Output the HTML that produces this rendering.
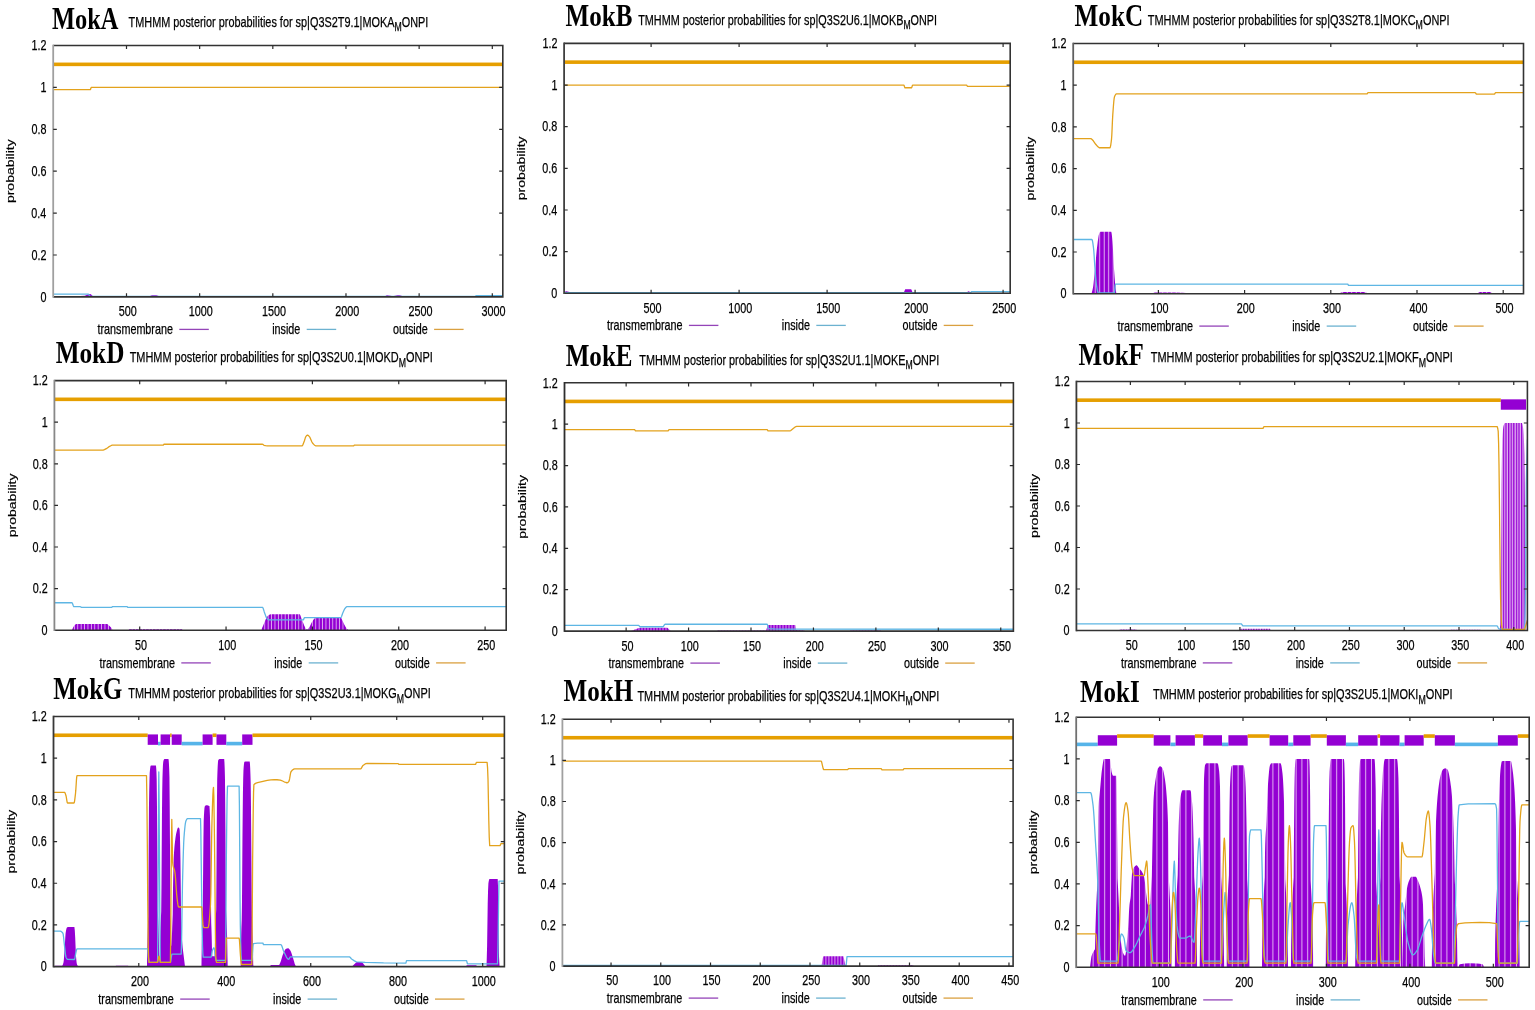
<!DOCTYPE html>
<html><head><meta charset="utf-8"><title>TMHMM posterior probabilities MokA-MokI</title>
<style>html,body{margin:0;padding:0;background:#fff;}svg{display:block;filter:blur(0.35px);}</style></head>
<body><svg width="1535" height="1010" viewBox="0 0 1535 1010">
<defs><clipPath id="cA"><rect x="53.2" y="45.5" width="449.6" height="251.4"/></clipPath>
<clipPath id="cB"><rect x="564.1" y="43.4" width="446.1" height="249.9"/></clipPath>
<clipPath id="cC"><rect x="1073.2" y="43.5" width="450.3" height="250.2"/></clipPath>
<pattern id="pC" patternUnits="userSpaceOnUse" x="1073.2" y="0" width="4.5" height="10"><rect width="4.5" height="10" fill="#9400D3"/><rect x="3.5" width="1" height="10" fill="#e2b0f2"/></pattern>
<clipPath id="cD"><rect x="54.4" y="380.6" width="451.8" height="249.6"/></clipPath>
<pattern id="pD" patternUnits="userSpaceOnUse" x="54.4" y="0" width="3.4" height="10"><rect width="3.4" height="10" fill="#9400D3"/><rect x="2.5" width="0.9" height="10" fill="#e2b0f2"/></pattern>
<clipPath id="cE"><rect x="564.5" y="382.8" width="448.9" height="248.3"/></clipPath>
<pattern id="pE" patternUnits="userSpaceOnUse" x="564.5" y="0" width="3" height="10"><rect width="3" height="10" fill="#9400D3"/><rect x="2.1" width="0.9" height="10" fill="#e2b0f2"/></pattern>
<clipPath id="cF"><rect x="1076.4" y="381.5" width="451" height="249"/></clipPath>
<pattern id="pF" patternUnits="userSpaceOnUse" x="1076.4" y="0" width="2.6" height="10"><rect width="2.6" height="10" fill="#9400D3"/><rect x="1.3" width="1.3" height="10" fill="#e2b0f2"/></pattern>
<clipPath id="cG"><rect x="53.5" y="716.5" width="450.9" height="250.1"/></clipPath>
<clipPath id="cH"><rect x="562.4" y="719.2" width="450.7" height="246.9"/></clipPath>
<pattern id="pH" patternUnits="userSpaceOnUse" x="562.4" y="0" width="3" height="10"><rect width="3" height="10" fill="#9400D3"/><rect x="2.1" width="0.9" height="10" fill="#e2b0f2"/></pattern>
<clipPath id="cI"><rect x="1076.2" y="717.3" width="453" height="250"/></clipPath>
<pattern id="pI" patternUnits="userSpaceOnUse" x="1076.2" y="0" width="5.8" height="10"><rect width="5.8" height="10" fill="#9400D3"/><rect x="4.8" width="1" height="10" fill="#e2b0f2"/></pattern></defs>
<rect width="1535" height="1010" fill="#fff"/>
<g clip-path="url(#cA)">
<rect x="53.2" y="62.55" width="449.6" height="3.6" fill="#E69F00"/>
<polygon points="80,296.9 80,296.06 85,295.64 85.9,295.36 87.7,294.48 90,293.97 90.9,294.35 92.7,296.06 92.7,296.9" fill="#9400D3"/>
<polygon points="150,296.9 150,296.06 151.33,295.38 152,295.22 156.34,295.25 158.7,296.06 158.7,296.9" fill="#9400D3"/>
<polygon points="385,296.9 385,296.27 386.33,295.42 387,295.22 392,296.06 393.83,295.92 397.48,295.33 399.31,295.24 400.54,295.47 403,296.27 403,296.9" fill="#9400D3"/>
<polygon points="475,296.9 475,296.27 476.33,295.76 477,295.64 477.67,295.76 479,296.27 479,296.9" fill="#9400D3"/>
<polyline points="53.2,294.18 88.5,294.18 88.8,294.42 89.7,296.24 90,296.48 475,296.48 476,295.64 502.8,295.64" fill="none" stroke="#5eb6e4" stroke-width="1.3" stroke-linejoin="round"/>
<polyline points="53.2,89.7 90.3,89.7 90.63,89.11 90.97,88 91.3,87.4 502.8,87.4" fill="none" stroke="#e3a21c" stroke-width="1.3" stroke-linejoin="round"/>
</g>
<path d="M53.2,45.5H502.8V296.9H53.2" fill="none" stroke="#333" stroke-width="1.6"/>
<path d="M53.2,44.7V297.7" fill="none" stroke="#a0a0a0" stroke-width="1.8"/>
<text x="40.42" y="301.64" font-family='"Liberation Sans", sans-serif' font-size="14.8" textLength="6" lengthAdjust="spacingAndGlyphs" fill="#000" stroke="#000" stroke-width="0.25">0</text>
<text x="31.54" y="259.74" font-family='"Liberation Sans", sans-serif' font-size="14.8" textLength="15" lengthAdjust="spacingAndGlyphs" fill="#000" stroke="#000" stroke-width="0.25">0.2</text>
<text x="31.31" y="217.84" font-family='"Liberation Sans", sans-serif' font-size="14.8" textLength="15" lengthAdjust="spacingAndGlyphs" fill="#000" stroke="#000" stroke-width="0.25">0.4</text>
<text x="31.47" y="175.94" font-family='"Liberation Sans", sans-serif' font-size="14.8" textLength="15" lengthAdjust="spacingAndGlyphs" fill="#000" stroke="#000" stroke-width="0.25">0.6</text>
<text x="31.47" y="134.04" font-family='"Liberation Sans", sans-serif' font-size="14.8" textLength="15" lengthAdjust="spacingAndGlyphs" fill="#000" stroke="#000" stroke-width="0.25">0.8</text>
<text x="40.52" y="92.14" font-family='"Liberation Sans", sans-serif' font-size="14.8" textLength="6" lengthAdjust="spacingAndGlyphs" fill="#000" stroke="#000" stroke-width="0.25">1</text>
<text x="31.54" y="50.24" font-family='"Liberation Sans", sans-serif' font-size="14.8" textLength="15" lengthAdjust="spacingAndGlyphs" fill="#000" stroke="#000" stroke-width="0.25">1.2</text>
<text x="118.79" y="316.3" font-family='"Liberation Sans", sans-serif' font-size="14.8" textLength="18.01" lengthAdjust="spacingAndGlyphs" fill="#000" stroke="#000" stroke-width="0.25">500</text>
<text x="188.76" y="316.3" font-family='"Liberation Sans", sans-serif' font-size="14.8" textLength="24.01" lengthAdjust="spacingAndGlyphs" fill="#000" stroke="#000" stroke-width="0.25">1000</text>
<text x="261.92" y="316.3" font-family='"Liberation Sans", sans-serif' font-size="14.8" textLength="24.01" lengthAdjust="spacingAndGlyphs" fill="#000" stroke="#000" stroke-width="0.25">1500</text>
<text x="335.22" y="316.3" font-family='"Liberation Sans", sans-serif' font-size="14.8" textLength="24.01" lengthAdjust="spacingAndGlyphs" fill="#000" stroke="#000" stroke-width="0.25">2000</text>
<text x="408.38" y="316.3" font-family='"Liberation Sans", sans-serif' font-size="14.8" textLength="24.01" lengthAdjust="spacingAndGlyphs" fill="#000" stroke="#000" stroke-width="0.25">2500</text>
<text x="481.6" y="316.3" font-family='"Liberation Sans", sans-serif' font-size="14.8" textLength="24.01" lengthAdjust="spacingAndGlyphs" fill="#000" stroke="#000" stroke-width="0.25">3000</text>
<path d="M53.2,255h3.6M502.8,255h-3.6M53.2,213.1h3.6M502.8,213.1h-3.6M53.2,171.2h3.6M502.8,171.2h-3.6M53.2,129.3h3.6M502.8,129.3h-3.6M53.2,87.4h3.6M502.8,87.4h-3.6M126.5,296.9v-3.6M126.5,45.5v3.6M199.66,296.9v-3.6M199.66,45.5v3.6M272.82,296.9v-3.6M272.82,45.5v3.6M345.98,296.9v-3.6M345.98,45.5v3.6M419.14,296.9v-3.6M419.14,45.5v3.6M492.3,296.9v-3.6M492.3,45.5v3.6" stroke="#2a2a2a" stroke-width="1.2" fill="none"/>
<text transform="translate(14.3,171.2) scale(0.76,1) rotate(-90)" x="0" y="0" text-anchor="middle" font-family='"Liberation Sans", sans-serif' font-size="14" stroke="#000" stroke-width="0.2">probability</text>
<line x1="179.3" y1="329.4" x2="208.8" y2="329.4" stroke="#9444b8" stroke-width="1.3"/>
<text x="97.4" y="334.4" font-family='"Liberation Sans", sans-serif' font-size="14.2" textLength="75.58" lengthAdjust="spacingAndGlyphs" fill="#000" stroke="#000" stroke-width="0.25">transmembrane</text>
<line x1="306.7" y1="329.4" x2="336.2" y2="329.4" stroke="#6cb2d0" stroke-width="1.3"/>
<text x="272.18" y="334.4" font-family='"Liberation Sans", sans-serif' font-size="14.2" textLength="28.2" lengthAdjust="spacingAndGlyphs" fill="#000" stroke="#000" stroke-width="0.25">inside</text>
<line x1="434.1" y1="329.4" x2="463.6" y2="329.4" stroke="#daa040" stroke-width="1.3"/>
<text x="392.98" y="334.4" font-family='"Liberation Sans", sans-serif' font-size="14.2" textLength="34.8" lengthAdjust="spacingAndGlyphs" fill="#000" stroke="#000" stroke-width="0.25">outside</text>
<text font-family='"Liberation Serif", serif' font-weight="bold" fill="#000"><tspan x="51.88" y="29.4" font-size="31.2" textLength="23.06" lengthAdjust="spacingAndGlyphs">M</tspan><tspan x="74.94" y="29.4" font-size="30" textLength="25.8" lengthAdjust="spacingAndGlyphs">ok</tspan><tspan x="100.74" y="29.4" font-size="31.2" textLength="17.64" lengthAdjust="spacingAndGlyphs">A</tspan></text>
<text font-family='"Liberation Sans", sans-serif' fill="#000" stroke="#000" stroke-width="0.25"><tspan x="128.56" y="26.8" font-size="15" textLength="265.92" lengthAdjust="spacingAndGlyphs">TMHMM posterior probabilities for sp|Q3S2T9.1|MOKA</tspan><tspan x="394.48" y="31.4" font-size="12" textLength="7.26" lengthAdjust="spacingAndGlyphs">M</tspan><tspan x="401.73" y="26.8" font-size="15" textLength="26.63" lengthAdjust="spacingAndGlyphs">ONPI</tspan></text>
<g clip-path="url(#cB)">
<rect x="564.1" y="60.34" width="446.1" height="3.6" fill="#E69F00"/>
<polygon points="564.5,293.3 564.5,292.47 565.7,291.31 566.31,291.23 574,292.88 574,293.3" fill="#9400D3"/>
<polygon points="904,293.3 904,292.26 904.9,289.93 905.2,289.36 905.5,289.13 911,289.13 911.35,289.48 911.7,290.31 912.4,292.26 912.4,293.3" fill="#9400D3"/>
<polygon points="967,293.3 967,292.47 967.9,291.54 968.5,291.22 969.16,291.39 970.8,292.47 970.8,293.3" fill="#9400D3"/>
<polyline points="564.1,292.68 970.8,292.68 971.5,291.63 1010.2,291.63" fill="none" stroke="#5eb6e4" stroke-width="1.3" stroke-linejoin="round"/>
<polyline points="564.1,85.05 903.8,85.05 904.1,85.47 904.7,87.33 905,87.76 911.5,87.76 911.8,87.33 912.4,85.47 912.7,85.05 966.6,85.05 967.5,86.3 1010.2,86.3" fill="none" stroke="#e3a21c" stroke-width="1.3" stroke-linejoin="round"/>
</g>
<path d="M564.1,43.4H1010.2V293.3H564.1" fill="none" stroke="#333" stroke-width="1.6"/>
<path d="M564.1,42.6V294.1" fill="none" stroke="#404040" stroke-width="1.8"/>
<text x="551.32" y="298.04" font-family='"Liberation Sans", sans-serif' font-size="14.8" textLength="6" lengthAdjust="spacingAndGlyphs" fill="#000" stroke="#000" stroke-width="0.25">0</text>
<text x="542.44" y="256.39" font-family='"Liberation Sans", sans-serif' font-size="14.8" textLength="15" lengthAdjust="spacingAndGlyphs" fill="#000" stroke="#000" stroke-width="0.25">0.2</text>
<text x="542.21" y="214.74" font-family='"Liberation Sans", sans-serif' font-size="14.8" textLength="15" lengthAdjust="spacingAndGlyphs" fill="#000" stroke="#000" stroke-width="0.25">0.4</text>
<text x="542.37" y="173.09" font-family='"Liberation Sans", sans-serif' font-size="14.8" textLength="15" lengthAdjust="spacingAndGlyphs" fill="#000" stroke="#000" stroke-width="0.25">0.6</text>
<text x="542.37" y="131.44" font-family='"Liberation Sans", sans-serif' font-size="14.8" textLength="15" lengthAdjust="spacingAndGlyphs" fill="#000" stroke="#000" stroke-width="0.25">0.8</text>
<text x="551.42" y="89.79" font-family='"Liberation Sans", sans-serif' font-size="14.8" textLength="6" lengthAdjust="spacingAndGlyphs" fill="#000" stroke="#000" stroke-width="0.25">1</text>
<text x="542.44" y="48.14" font-family='"Liberation Sans", sans-serif' font-size="14.8" textLength="15" lengthAdjust="spacingAndGlyphs" fill="#000" stroke="#000" stroke-width="0.25">1.2</text>
<text x="643.39" y="312.7" font-family='"Liberation Sans", sans-serif' font-size="14.8" textLength="18.01" lengthAdjust="spacingAndGlyphs" fill="#000" stroke="#000" stroke-width="0.25">500</text>
<text x="728.2" y="312.7" font-family='"Liberation Sans", sans-serif' font-size="14.8" textLength="24.01" lengthAdjust="spacingAndGlyphs" fill="#000" stroke="#000" stroke-width="0.25">1000</text>
<text x="816.2" y="312.7" font-family='"Liberation Sans", sans-serif' font-size="14.8" textLength="24.01" lengthAdjust="spacingAndGlyphs" fill="#000" stroke="#000" stroke-width="0.25">1500</text>
<text x="904.34" y="312.7" font-family='"Liberation Sans", sans-serif' font-size="14.8" textLength="24.01" lengthAdjust="spacingAndGlyphs" fill="#000" stroke="#000" stroke-width="0.25">2000</text>
<text x="992.34" y="312.7" font-family='"Liberation Sans", sans-serif' font-size="14.8" textLength="24.01" lengthAdjust="spacingAndGlyphs" fill="#000" stroke="#000" stroke-width="0.25">2500</text>
<path d="M564.1,251.65h3.6M1010.2,251.65h-3.6M564.1,210h3.6M1010.2,210h-3.6M564.1,168.35h3.6M1010.2,168.35h-3.6M564.1,126.7h3.6M1010.2,126.7h-3.6M564.1,85.05h3.6M1010.2,85.05h-3.6M651.1,293.3v-3.6M651.1,43.4v3.6M739.1,293.3v-3.6M739.1,43.4v3.6M827.1,293.3v-3.6M827.1,43.4v3.6M915.1,293.3v-3.6M915.1,43.4v3.6M1003.1,293.3v-3.6M1003.1,43.4v3.6" stroke="#2a2a2a" stroke-width="1.2" fill="none"/>
<text transform="translate(525.2,168.35) scale(0.76,1) rotate(-90)" x="0" y="0" text-anchor="middle" font-family='"Liberation Sans", sans-serif' font-size="14" stroke="#000" stroke-width="0.2">probability</text>
<line x1="688.9" y1="325.4" x2="718.4" y2="325.4" stroke="#9444b8" stroke-width="1.3"/>
<text x="607" y="330.4" font-family='"Liberation Sans", sans-serif' font-size="14.2" textLength="75.58" lengthAdjust="spacingAndGlyphs" fill="#000" stroke="#000" stroke-width="0.25">transmembrane</text>
<line x1="816.3" y1="325.4" x2="845.8" y2="325.4" stroke="#6cb2d0" stroke-width="1.3"/>
<text x="781.78" y="330.4" font-family='"Liberation Sans", sans-serif' font-size="14.2" textLength="28.2" lengthAdjust="spacingAndGlyphs" fill="#000" stroke="#000" stroke-width="0.25">inside</text>
<line x1="943.7" y1="325.4" x2="973.2" y2="325.4" stroke="#daa040" stroke-width="1.3"/>
<text x="902.58" y="330.4" font-family='"Liberation Sans", sans-serif' font-size="14.2" textLength="34.8" lengthAdjust="spacingAndGlyphs" fill="#000" stroke="#000" stroke-width="0.25">outside</text>
<text font-family='"Liberation Serif", serif' font-weight="bold" fill="#000"><tspan x="565.57" y="25.8" font-size="31.2" textLength="23.65" lengthAdjust="spacingAndGlyphs">M</tspan><tspan x="589.22" y="25.8" font-size="30" textLength="26.46" lengthAdjust="spacingAndGlyphs">ok</tspan><tspan x="615.68" y="25.8" font-size="31.2" textLength="16.71" lengthAdjust="spacingAndGlyphs">B</tspan></text>
<text font-family='"Liberation Sans", sans-serif' fill="#000" stroke="#000" stroke-width="0.25"><tspan x="638.26" y="24.8" font-size="15" textLength="265.16" lengthAdjust="spacingAndGlyphs">TMHMM posterior probabilities for sp|Q3S2U6.1|MOKB</tspan><tspan x="903.42" y="29.4" font-size="12" textLength="7.2" lengthAdjust="spacingAndGlyphs">M</tspan><tspan x="910.62" y="24.8" font-size="15" textLength="26.43" lengthAdjust="spacingAndGlyphs">ONPI</tspan></text>
<g clip-path="url(#cC)">
<rect x="1073.2" y="60.46" width="450.3" height="3.6" fill="#E69F00"/>
<polygon points="1091.5,293.7 1091.5,293.7 1092.4,290.27 1092.7,288.98 1093,287.44 1093.33,285.2 1093.67,282.36 1094,279.11 1095.33,265.23 1096.33,254.21 1096.67,250.82 1097,247.83 1097.67,242.29 1098,239.68 1098.33,237.38 1098.67,235.53 1099,234.28 1099.35,233.35 1099.7,232.55 1100.05,231.99 1100.4,231.78 1100.71,231.78 1111.2,231.78 1111.53,232.66 1111.85,234.96 1112.17,238.12 1112.5,241.57 1112.8,245.71 1113.1,251.26 1113.7,263.53 1114,268.68 1114.3,273.05 1114.6,277.22 1114.9,281.08 1115.2,284.53 1115.5,287.44 1115.8,289.77 1116.4,293.7 1116.4,293.7" fill="url(#pC)"/>
<polygon points="1152,293.7 1152,293.28 1154.7,292.46 1158,292.45 1175.45,292.53 1182.14,292.74 1191,293.28 1191,293.7" fill="url(#pC)"/>
<polygon points="1340,293.7 1340,293.07 1342.1,292.19 1343,292.03 1364,292.03 1364.9,292.19 1367,293.07 1367,293.7" fill="url(#pC)"/>
<polygon points="1477.8,293.7 1477.8,293.07 1479.37,292.18 1480,292.03 1490,292.03 1490.67,292.23 1492,293.07 1492,293.7" fill="url(#pC)"/>
<polyline points="1073.2,239.49 1091.9,239.49 1092.22,239.97 1092.54,241.26 1092.86,243.14 1093.5,247.83 1093.8,250.87 1094.1,255.04 1094.7,264.51 1095,268.68 1095.6,276.33 1095.9,279.94 1096.2,283.04 1096.5,285.36 1096.86,287.56 1097.22,289.6 1097.58,291.29 1097.94,292.44 1098.3,292.87 1114.3,292.87 1114.6,291.5 1115.2,285.48 1115.5,284.11 1347.8,284.11 1348.5,285.36 1523.5,285.36" fill="none" stroke="#5eb6e4" stroke-width="1.3" stroke-linejoin="round"/>
<polyline points="1073.2,138.58 1090.9,138.62 1091.8,139.22 1093.3,140.78 1095.7,144.27 1097.96,146.84 1098.95,147.58 1099.6,147.75 1109.9,147.75 1110.22,147.31 1110.54,146.1 1110.86,144.27 1111.18,141.99 1111.5,139.41 1111.83,134.81 1112.15,127.77 1112.47,120.29 1112.8,114.39 1113.14,109.7 1113.48,105.21 1113.82,101.29 1114.16,98.32 1114.5,96.67 1115.13,95.25 1115.77,94.3 1116.08,94.05 1116.4,93.96 1367,93.96 1367.33,93.63 1367.67,93.03 1368,92.71 1475.2,92.71 1475.53,92.93 1476.17,93.94 1476.5,94.17 1494.5,94.17 1494.83,93.79 1495.17,93.08 1495.5,92.71 1523.5,92.71" fill="none" stroke="#e3a21c" stroke-width="1.3" stroke-linejoin="round"/>
</g>
<path d="M1073.2,43.5H1523.5V293.7H1073.2" fill="none" stroke="#333" stroke-width="1.6"/>
<path d="M1073.2,42.7V294.5" fill="none" stroke="#606060" stroke-width="1.8"/>
<text x="1060.42" y="298.44" font-family='"Liberation Sans", sans-serif' font-size="14.8" textLength="6" lengthAdjust="spacingAndGlyphs" fill="#000" stroke="#000" stroke-width="0.25">0</text>
<text x="1051.54" y="256.74" font-family='"Liberation Sans", sans-serif' font-size="14.8" textLength="15" lengthAdjust="spacingAndGlyphs" fill="#000" stroke="#000" stroke-width="0.25">0.2</text>
<text x="1051.31" y="215.04" font-family='"Liberation Sans", sans-serif' font-size="14.8" textLength="15" lengthAdjust="spacingAndGlyphs" fill="#000" stroke="#000" stroke-width="0.25">0.4</text>
<text x="1051.47" y="173.34" font-family='"Liberation Sans", sans-serif' font-size="14.8" textLength="15" lengthAdjust="spacingAndGlyphs" fill="#000" stroke="#000" stroke-width="0.25">0.6</text>
<text x="1051.47" y="131.64" font-family='"Liberation Sans", sans-serif' font-size="14.8" textLength="15" lengthAdjust="spacingAndGlyphs" fill="#000" stroke="#000" stroke-width="0.25">0.8</text>
<text x="1060.52" y="89.94" font-family='"Liberation Sans", sans-serif' font-size="14.8" textLength="6" lengthAdjust="spacingAndGlyphs" fill="#000" stroke="#000" stroke-width="0.25">1</text>
<text x="1051.54" y="48.24" font-family='"Liberation Sans", sans-serif' font-size="14.8" textLength="15" lengthAdjust="spacingAndGlyphs" fill="#000" stroke="#000" stroke-width="0.25">1.2</text>
<text x="1150.5" y="313.1" font-family='"Liberation Sans", sans-serif' font-size="14.8" textLength="18.01" lengthAdjust="spacingAndGlyphs" fill="#000" stroke="#000" stroke-width="0.25">100</text>
<text x="1236.84" y="313.1" font-family='"Liberation Sans", sans-serif' font-size="14.8" textLength="18.01" lengthAdjust="spacingAndGlyphs" fill="#000" stroke="#000" stroke-width="0.25">200</text>
<text x="1323.1" y="313.1" font-family='"Liberation Sans", sans-serif' font-size="14.8" textLength="18.01" lengthAdjust="spacingAndGlyphs" fill="#000" stroke="#000" stroke-width="0.25">300</text>
<text x="1409.38" y="313.1" font-family='"Liberation Sans", sans-serif' font-size="14.8" textLength="18.01" lengthAdjust="spacingAndGlyphs" fill="#000" stroke="#000" stroke-width="0.25">400</text>
<text x="1495.49" y="313.1" font-family='"Liberation Sans", sans-serif' font-size="14.8" textLength="18.01" lengthAdjust="spacingAndGlyphs" fill="#000" stroke="#000" stroke-width="0.25">500</text>
<path d="M1073.2,252h3.6M1523.5,252h-3.6M1073.2,210.3h3.6M1523.5,210.3h-3.6M1073.2,168.6h3.6M1523.5,168.6h-3.6M1073.2,126.9h3.6M1523.5,126.9h-3.6M1073.2,85.2h3.6M1523.5,85.2h-3.6M1158.4,293.7v-3.6M1158.4,43.5v3.6M1244.6,293.7v-3.6M1244.6,43.5v3.6M1330.8,293.7v-3.6M1330.8,43.5v3.6M1417,293.7v-3.6M1417,43.5v3.6M1503.2,293.7v-3.6M1503.2,43.5v3.6" stroke="#2a2a2a" stroke-width="1.2" fill="none"/>
<text transform="translate(1034.3,168.6) scale(0.76,1) rotate(-90)" x="0" y="0" text-anchor="middle" font-family='"Liberation Sans", sans-serif' font-size="14" stroke="#000" stroke-width="0.2">probability</text>
<line x1="1199.3" y1="326.1" x2="1228.8" y2="326.1" stroke="#9444b8" stroke-width="1.3"/>
<text x="1117.4" y="331.1" font-family='"Liberation Sans", sans-serif' font-size="14.2" textLength="75.58" lengthAdjust="spacingAndGlyphs" fill="#000" stroke="#000" stroke-width="0.25">transmembrane</text>
<line x1="1326.7" y1="326.1" x2="1356.2" y2="326.1" stroke="#6cb2d0" stroke-width="1.3"/>
<text x="1292.18" y="331.1" font-family='"Liberation Sans", sans-serif' font-size="14.2" textLength="28.2" lengthAdjust="spacingAndGlyphs" fill="#000" stroke="#000" stroke-width="0.25">inside</text>
<line x1="1454.1" y1="326.1" x2="1483.6" y2="326.1" stroke="#daa040" stroke-width="1.3"/>
<text x="1412.98" y="331.1" font-family='"Liberation Sans", sans-serif' font-size="14.2" textLength="34.8" lengthAdjust="spacingAndGlyphs" fill="#000" stroke="#000" stroke-width="0.25">outside</text>
<text font-family='"Liberation Serif", serif' font-weight="bold" fill="#000"><tspan x="1074.57" y="26.1" font-size="31.2" textLength="23.77" lengthAdjust="spacingAndGlyphs">M</tspan><tspan x="1098.34" y="26.1" font-size="30" textLength="26.6" lengthAdjust="spacingAndGlyphs">ok</tspan><tspan x="1124.93" y="26.1" font-size="31.2" textLength="18.19" lengthAdjust="spacingAndGlyphs">C</tspan></text>
<text font-family='"Liberation Sans", sans-serif' fill="#000" stroke="#000" stroke-width="0.25"><tspan x="1147.75" y="24.8" font-size="15" textLength="267.86" lengthAdjust="spacingAndGlyphs">TMHMM posterior probabilities for sp|Q3S2T8.1|MOKC</tspan><tspan x="1415.61" y="29.4" font-size="12" textLength="7.29" lengthAdjust="spacingAndGlyphs">M</tspan><tspan x="1422.9" y="24.8" font-size="15" textLength="26.76" lengthAdjust="spacingAndGlyphs">ONPI</tspan></text>
<g clip-path="url(#cD)">
<rect x="54.4" y="397.52" width="451.8" height="3.6" fill="#E69F00"/>
<polygon points="71.9,630.2 71.9,630.2 73,627.7 74,625.96 74.67,625.07 75.33,624.58 76.33,624.08 77.6,623.96 107,623.96 107.67,624.26 109,625.62 110.87,627.32 111.8,628.54 112.5,630.2 112.5,630.2" fill="url(#pD)"/>
<polygon points="128.5,630.2 128.5,630.2 129,629.16 129.3,629.16 182,629.16 182.6,630.2 182.6,630.2" fill="url(#pD)"/>
<polygon points="261,630.2 261,630.2 263,626.04 264.88,621.21 265.5,619.8 266.75,617.32 267.69,615.92 269.24,614.85 270.78,614.25 278.65,614.18 299.5,614.18 299.81,614.35 300.12,614.79 300.44,615.45 301.69,619 303.8,624.45 304.4,625.89 306,628.86 306.67,629.66 307,629.78 307.33,629.69 308,629.08 309.3,627.26 309.9,626.16 311.7,622.39 313.25,619.98 314.19,618.84 315.18,617.99 315.86,617.58 340.6,617.51 340.92,617.68 341.23,618.11 344.38,624.85 345.33,626.6 346.67,628.56 347.35,629.3 348.4,630.2 348.4,630.2" fill="url(#pD)"/>
<polyline points="54.4,602.74 71.9,602.74 72.25,603.04 72.6,603.77 73.3,605.67 73.65,606.4 74,606.7 80.4,606.7 81.5,607.32 111.8,607.32 112.3,606.7 115.95,606.7 127.2,606.7 127.7,607.32 262.4,607.32 262.7,607.51 263,608.04 263.3,608.81 264.2,611.67 265.83,616.35 266.17,617.14 266.83,618.16 267.81,619.31 268.47,619.74 268.8,619.8 303.3,619.8 303.7,619.26 304.1,618.26 304.5,617.72 340.6,617.72 340.94,617.52 341.29,616.99 341.63,616.21 342.66,613.34 344,610.21 344.67,608.85 346,607.23 346.67,606.76 347,606.7 506.2,606.7" fill="none" stroke="#5eb6e4" stroke-width="1.3" stroke-linejoin="round"/>
<polyline points="54.4,450.07 103.12,450.05 104.4,449.65 106.3,448.66 108.7,446.92 110.85,445.73 112.08,445.22 113,445.08 163.3,445.08 164,444.25 262.4,444.25 262.72,444.34 264,445.29 265.59,445.7 267.18,445.91 302,445.91 302.33,445.73 302.67,445.23 303,444.52 304.33,441.06 305.33,437.83 305.67,436.94 306,436.34 306.6,435.63 307.2,435.17 307.5,435.1 307.83,435.17 308.5,435.64 309.8,437.18 310.4,438.4 311.9,442.02 312.5,443 313.73,444.39 314.66,445.25 315.58,445.8 316.2,445.91 353.5,445.91 354.5,445.08 506.2,445.08" fill="none" stroke="#e3a21c" stroke-width="1.3" stroke-linejoin="round"/>
</g>
<path d="M54.4,380.6H506.2V630.2H54.4" fill="none" stroke="#333" stroke-width="1.6"/>
<path d="M54.4,379.8V631" fill="none" stroke="#888888" stroke-width="1.8"/>
<text x="41.62" y="634.94" font-family='"Liberation Sans", sans-serif' font-size="14.8" textLength="6" lengthAdjust="spacingAndGlyphs" fill="#000" stroke="#000" stroke-width="0.25">0</text>
<text x="32.74" y="593.34" font-family='"Liberation Sans", sans-serif' font-size="14.8" textLength="15" lengthAdjust="spacingAndGlyphs" fill="#000" stroke="#000" stroke-width="0.25">0.2</text>
<text x="32.51" y="551.74" font-family='"Liberation Sans", sans-serif' font-size="14.8" textLength="15" lengthAdjust="spacingAndGlyphs" fill="#000" stroke="#000" stroke-width="0.25">0.4</text>
<text x="32.67" y="510.14" font-family='"Liberation Sans", sans-serif' font-size="14.8" textLength="15" lengthAdjust="spacingAndGlyphs" fill="#000" stroke="#000" stroke-width="0.25">0.6</text>
<text x="32.67" y="468.54" font-family='"Liberation Sans", sans-serif' font-size="14.8" textLength="15" lengthAdjust="spacingAndGlyphs" fill="#000" stroke="#000" stroke-width="0.25">0.8</text>
<text x="41.72" y="426.94" font-family='"Liberation Sans", sans-serif' font-size="14.8" textLength="6" lengthAdjust="spacingAndGlyphs" fill="#000" stroke="#000" stroke-width="0.25">1</text>
<text x="32.74" y="385.34" font-family='"Liberation Sans", sans-serif' font-size="14.8" textLength="15" lengthAdjust="spacingAndGlyphs" fill="#000" stroke="#000" stroke-width="0.25">1.2</text>
<text x="134.99" y="649.6" font-family='"Liberation Sans", sans-serif' font-size="14.8" textLength="12" lengthAdjust="spacingAndGlyphs" fill="#000" stroke="#000" stroke-width="0.25">50</text>
<text x="218.15" y="649.6" font-family='"Liberation Sans", sans-serif' font-size="14.8" textLength="18.01" lengthAdjust="spacingAndGlyphs" fill="#000" stroke="#000" stroke-width="0.25">100</text>
<text x="304.5" y="649.6" font-family='"Liberation Sans", sans-serif' font-size="14.8" textLength="18.01" lengthAdjust="spacingAndGlyphs" fill="#000" stroke="#000" stroke-width="0.25">150</text>
<text x="390.99" y="649.6" font-family='"Liberation Sans", sans-serif' font-size="14.8" textLength="18.01" lengthAdjust="spacingAndGlyphs" fill="#000" stroke="#000" stroke-width="0.25">200</text>
<text x="477.34" y="649.6" font-family='"Liberation Sans", sans-serif' font-size="14.8" textLength="18.01" lengthAdjust="spacingAndGlyphs" fill="#000" stroke="#000" stroke-width="0.25">250</text>
<path d="M54.4,588.6h3.6M506.2,588.6h-3.6M54.4,547h3.6M506.2,547h-3.6M54.4,505.4h3.6M506.2,505.4h-3.6M54.4,463.8h3.6M506.2,463.8h-3.6M54.4,422.2h3.6M506.2,422.2h-3.6M139.7,630.2v-3.6M139.7,380.6v3.6M226.05,630.2v-3.6M226.05,380.6v3.6M312.4,630.2v-3.6M312.4,380.6v3.6M398.75,630.2v-3.6M398.75,380.6v3.6M485.1,630.2v-3.6M485.1,380.6v3.6" stroke="#2a2a2a" stroke-width="1.2" fill="none"/>
<text transform="translate(15.5,505.4) scale(0.76,1) rotate(-90)" x="0" y="0" text-anchor="middle" font-family='"Liberation Sans", sans-serif' font-size="14" stroke="#000" stroke-width="0.2">probability</text>
<line x1="181.3" y1="662.9" x2="210.8" y2="662.9" stroke="#9444b8" stroke-width="1.3"/>
<text x="99.4" y="667.9" font-family='"Liberation Sans", sans-serif' font-size="14.2" textLength="75.58" lengthAdjust="spacingAndGlyphs" fill="#000" stroke="#000" stroke-width="0.25">transmembrane</text>
<line x1="308.7" y1="662.9" x2="338.2" y2="662.9" stroke="#6cb2d0" stroke-width="1.3"/>
<text x="274.18" y="667.9" font-family='"Liberation Sans", sans-serif' font-size="14.2" textLength="28.2" lengthAdjust="spacingAndGlyphs" fill="#000" stroke="#000" stroke-width="0.25">inside</text>
<line x1="436.1" y1="662.9" x2="465.6" y2="662.9" stroke="#daa040" stroke-width="1.3"/>
<text x="394.98" y="667.9" font-family='"Liberation Sans", sans-serif' font-size="14.2" textLength="34.8" lengthAdjust="spacingAndGlyphs" fill="#000" stroke="#000" stroke-width="0.25">outside</text>
<text font-family='"Liberation Serif", serif' font-weight="bold" fill="#000"><tspan x="55.77" y="363" font-size="31.2" textLength="23.77" lengthAdjust="spacingAndGlyphs">M</tspan><tspan x="79.54" y="363" font-size="30" textLength="26.6" lengthAdjust="spacingAndGlyphs">ok</tspan><tspan x="106.14" y="363" font-size="31.2" textLength="18.19" lengthAdjust="spacingAndGlyphs">D</tspan></text>
<text font-family='"Liberation Sans", sans-serif' fill="#000" stroke="#000" stroke-width="0.25"><tspan x="129.65" y="362.4" font-size="15" textLength="269.06" lengthAdjust="spacingAndGlyphs">TMHMM posterior probabilities for sp|Q3S2U0.1|MOKD</tspan><tspan x="398.71" y="367" font-size="12" textLength="7.29" lengthAdjust="spacingAndGlyphs">M</tspan><tspan x="406.01" y="362.4" font-size="15" textLength="26.76" lengthAdjust="spacingAndGlyphs">ONPI</tspan></text>
<g clip-path="url(#cE)">
<rect x="564.5" y="399.62" width="448.9" height="3.6" fill="#E69F00"/>
<polygon points="630.8,631.1 630.8,631.1 638.15,628.17 639.08,627.9 640,627.79 667,627.79 667.62,627.96 668.23,628.4 670.7,631.1 670.7,631.1" fill="url(#pE)"/>
<polygon points="717,631.1 717,631.1 717.5,630.48 766,630.48 766.3,630.08 767.6,625.65 768,624.89 773.46,624.89 795.3,624.89 796,630.07 803.99,630.44 804.3,630.48 805,631.1 805,631.1" fill="url(#pE)"/>
<polygon points="850,631.1 850,631.1 850.67,630.59 851,630.48 854.32,630.48 880,630.48 880.33,630.59 881,631.1 881,631.1" fill="url(#pE)"/>
<polyline points="564.5,625.31 638.5,625.31 638.8,625.46 639.7,626.6 640,626.75 663,626.75 663.33,626.57 664.67,624.46 665,624.27 767.2,624.27 767.53,624.95 768.17,627.92 768.5,628.62 773.95,628.96 780.01,629.16 1013.4,629.24" fill="none" stroke="#5eb6e4" stroke-width="1.3" stroke-linejoin="round"/>
<polyline points="564.5,429.56 634.6,429.56 635.5,430.8 644.86,430.8 668.1,430.8 669,429.56 767.2,429.56 768,430.8 790.1,430.8 790.8,430.51 795.1,427.05 796,426.57 796.6,426.46 1013.4,426.46" fill="none" stroke="#e3a21c" stroke-width="1.3" stroke-linejoin="round"/>
</g>
<path d="M564.5,382.8H1013.4V631.1H564.5" fill="none" stroke="#333" stroke-width="1.6"/>
<path d="M564.5,382V631.9" fill="none" stroke="#2e2e2e" stroke-width="1.8"/>
<text x="551.72" y="635.84" font-family='"Liberation Sans", sans-serif' font-size="14.8" textLength="6" lengthAdjust="spacingAndGlyphs" fill="#000" stroke="#000" stroke-width="0.25">0</text>
<text x="542.84" y="594.46" font-family='"Liberation Sans", sans-serif' font-size="14.8" textLength="15" lengthAdjust="spacingAndGlyphs" fill="#000" stroke="#000" stroke-width="0.25">0.2</text>
<text x="542.61" y="553.07" font-family='"Liberation Sans", sans-serif' font-size="14.8" textLength="15" lengthAdjust="spacingAndGlyphs" fill="#000" stroke="#000" stroke-width="0.25">0.4</text>
<text x="542.77" y="511.69" font-family='"Liberation Sans", sans-serif' font-size="14.8" textLength="15" lengthAdjust="spacingAndGlyphs" fill="#000" stroke="#000" stroke-width="0.25">0.6</text>
<text x="542.77" y="470.31" font-family='"Liberation Sans", sans-serif' font-size="14.8" textLength="15" lengthAdjust="spacingAndGlyphs" fill="#000" stroke="#000" stroke-width="0.25">0.8</text>
<text x="551.82" y="428.92" font-family='"Liberation Sans", sans-serif' font-size="14.8" textLength="6" lengthAdjust="spacingAndGlyphs" fill="#000" stroke="#000" stroke-width="0.25">1</text>
<text x="542.84" y="387.54" font-family='"Liberation Sans", sans-serif' font-size="14.8" textLength="15" lengthAdjust="spacingAndGlyphs" fill="#000" stroke="#000" stroke-width="0.25">1.2</text>
<text x="621.43" y="650.5" font-family='"Liberation Sans", sans-serif' font-size="14.8" textLength="12" lengthAdjust="spacingAndGlyphs" fill="#000" stroke="#000" stroke-width="0.25">50</text>
<text x="680.67" y="650.5" font-family='"Liberation Sans", sans-serif' font-size="14.8" textLength="18.01" lengthAdjust="spacingAndGlyphs" fill="#000" stroke="#000" stroke-width="0.25">100</text>
<text x="743.1" y="650.5" font-family='"Liberation Sans", sans-serif' font-size="14.8" textLength="18.01" lengthAdjust="spacingAndGlyphs" fill="#000" stroke="#000" stroke-width="0.25">150</text>
<text x="805.68" y="650.5" font-family='"Liberation Sans", sans-serif' font-size="14.8" textLength="18.01" lengthAdjust="spacingAndGlyphs" fill="#000" stroke="#000" stroke-width="0.25">200</text>
<text x="868.11" y="650.5" font-family='"Liberation Sans", sans-serif' font-size="14.8" textLength="18.01" lengthAdjust="spacingAndGlyphs" fill="#000" stroke="#000" stroke-width="0.25">250</text>
<text x="930.61" y="650.5" font-family='"Liberation Sans", sans-serif' font-size="14.8" textLength="18.01" lengthAdjust="spacingAndGlyphs" fill="#000" stroke="#000" stroke-width="0.25">300</text>
<text x="993.05" y="650.5" font-family='"Liberation Sans", sans-serif' font-size="14.8" textLength="18.01" lengthAdjust="spacingAndGlyphs" fill="#000" stroke="#000" stroke-width="0.25">350</text>
<path d="M564.5,589.72h3.6M1013.4,589.72h-3.6M564.5,548.33h3.6M1013.4,548.33h-3.6M564.5,506.95h3.6M1013.4,506.95h-3.6M564.5,465.57h3.6M1013.4,465.57h-3.6M564.5,424.18h3.6M1013.4,424.18h-3.6M626.13,631.1v-3.6M626.13,382.8v3.6M688.57,631.1v-3.6M688.57,382.8v3.6M751,631.1v-3.6M751,382.8v3.6M813.44,631.1v-3.6M813.44,382.8v3.6M875.88,631.1v-3.6M875.88,382.8v3.6M938.31,631.1v-3.6M938.31,382.8v3.6M1000.75,631.1v-3.6M1000.75,382.8v3.6" stroke="#2a2a2a" stroke-width="1.2" fill="none"/>
<text transform="translate(525.6,506.95) scale(0.76,1) rotate(-90)" x="0" y="0" text-anchor="middle" font-family='"Liberation Sans", sans-serif' font-size="14" stroke="#000" stroke-width="0.2">probability</text>
<line x1="690.4" y1="663.1" x2="719.9" y2="663.1" stroke="#9444b8" stroke-width="1.3"/>
<text x="608.5" y="668.1" font-family='"Liberation Sans", sans-serif' font-size="14.2" textLength="75.58" lengthAdjust="spacingAndGlyphs" fill="#000" stroke="#000" stroke-width="0.25">transmembrane</text>
<line x1="817.8" y1="663.1" x2="847.3" y2="663.1" stroke="#6cb2d0" stroke-width="1.3"/>
<text x="783.28" y="668.1" font-family='"Liberation Sans", sans-serif' font-size="14.2" textLength="28.2" lengthAdjust="spacingAndGlyphs" fill="#000" stroke="#000" stroke-width="0.25">inside</text>
<line x1="945.2" y1="663.1" x2="974.7" y2="663.1" stroke="#daa040" stroke-width="1.3"/>
<text x="904.08" y="668.1" font-family='"Liberation Sans", sans-serif' font-size="14.2" textLength="34.8" lengthAdjust="spacingAndGlyphs" fill="#000" stroke="#000" stroke-width="0.25">outside</text>
<text font-family='"Liberation Serif", serif' font-weight="bold" fill="#000"><tspan x="565.67" y="366.1" font-size="31.2" textLength="23.68" lengthAdjust="spacingAndGlyphs">M</tspan><tspan x="589.35" y="366.1" font-size="30" textLength="26.5" lengthAdjust="spacingAndGlyphs">ok</tspan><tspan x="615.85" y="366.1" font-size="31.2" textLength="16.73" lengthAdjust="spacingAndGlyphs">E</tspan></text>
<text font-family='"Liberation Sans", sans-serif' fill="#000" stroke="#000" stroke-width="0.25"><tspan x="639.26" y="364.8" font-size="15" textLength="266.14" lengthAdjust="spacingAndGlyphs">TMHMM posterior probabilities for sp|Q3S2U1.1|MOKE</tspan><tspan x="905.4" y="369.4" font-size="12" textLength="7.23" lengthAdjust="spacingAndGlyphs">M</tspan><tspan x="912.63" y="364.8" font-size="15" textLength="26.53" lengthAdjust="spacingAndGlyphs">ONPI</tspan></text>
<g clip-path="url(#cF)">
<rect x="1076.4" y="398.37" width="424.4" height="3.6" fill="#E69F00"/>
<rect x="1500.8" y="399.34" width="25.2" height="10.38" fill="#9400D3"/>
<polygon points="1119,630.5 1119,630.5 1119.67,629.65 1120,629.46 1132.08,629.46 1136,629.46 1136.33,629.65 1137,630.5 1137,630.5" fill="url(#pF)"/>
<polygon points="1240,630.5 1240,630.5 1240.67,629.15 1241,628.84 1270,628.84 1270.33,629.15 1271,630.5 1271,630.5" fill="url(#pF)"/>
<polygon points="1450,630.5 1450,630.5 1450.67,629.82 1451,629.67 1480,629.67 1480.33,629.82 1481,630.5 1481,630.5" fill="url(#pF)"/>
<polygon points="1499.5,630.5 1499.5,630.5 1499.9,628.11 1500.3,624.27 1500.6,603.5 1500.9,568.25 1501.5,485.25 1501.9,456.15 1502.3,439.6 1502.6,434.38 1502.9,430.45 1503.2,427.72 1503.5,426.11 1504.1,424.24 1504.4,423.58 1504.7,423.15 1505,423 1521.9,423 1522.25,423.47 1522.6,424.78 1522.95,426.75 1523.3,429.23 1523.67,433.88 1524.03,442.19 1524.4,454.12 1524.8,482.09 1525.2,526.75 1525.8,630.5 1525.8,630.5" fill="url(#pF)"/>
<polyline points="1076.4,623.86 1241.2,623.86 1241.56,624.08 1242.64,625.72 1243,625.93 1497,625.93 1497.33,626.15 1497.67,626.68 1498.33,628.06 1498.67,628.6 1499,628.84 1510.1,629.48 1524.5,629.67 1524.83,623.8 1525.17,608.9 1525.5,589 1525.9,537.27 1526.3,485.25 1526.67,466.26 1527.4,439.6" fill="none" stroke="#5eb6e4" stroke-width="1.3" stroke-linejoin="round"/>
<polyline points="1076.4,428.39 1263,428.39 1263.33,427.91 1263.67,427.01 1264,426.53 1496.9,426.53 1497.23,426.83 1497.55,427.74 1497.88,429.23 1498.2,431.3 1498.6,442.93 1499,464.5 1499.4,498.13 1499.8,537.12 1500.2,572.78 1500.6,599.38 1500.93,610.84 1501.27,619.3 1501.6,624.27 1501.9,626.85 1502.2,628.73 1502.5,629.46 1524.5,629.46 1524.83,628.89 1525.5,626.35 1527.4,620.12" fill="none" stroke="#e3a21c" stroke-width="1.3" stroke-linejoin="round"/>
</g>
<path d="M1076.4,381.5H1527.4V630.5H1076.4" fill="none" stroke="#333" stroke-width="1.6"/>
<path d="M1076.4,380.7V631.3" fill="none" stroke="#3a3a3a" stroke-width="1.8"/>
<text x="1063.62" y="635.24" font-family='"Liberation Sans", sans-serif' font-size="14.8" textLength="6" lengthAdjust="spacingAndGlyphs" fill="#000" stroke="#000" stroke-width="0.25">0</text>
<text x="1054.74" y="593.74" font-family='"Liberation Sans", sans-serif' font-size="14.8" textLength="15" lengthAdjust="spacingAndGlyphs" fill="#000" stroke="#000" stroke-width="0.25">0.2</text>
<text x="1054.51" y="552.24" font-family='"Liberation Sans", sans-serif' font-size="14.8" textLength="15" lengthAdjust="spacingAndGlyphs" fill="#000" stroke="#000" stroke-width="0.25">0.4</text>
<text x="1054.67" y="510.74" font-family='"Liberation Sans", sans-serif' font-size="14.8" textLength="15" lengthAdjust="spacingAndGlyphs" fill="#000" stroke="#000" stroke-width="0.25">0.6</text>
<text x="1054.67" y="469.24" font-family='"Liberation Sans", sans-serif' font-size="14.8" textLength="15" lengthAdjust="spacingAndGlyphs" fill="#000" stroke="#000" stroke-width="0.25">0.8</text>
<text x="1063.72" y="427.74" font-family='"Liberation Sans", sans-serif' font-size="14.8" textLength="6" lengthAdjust="spacingAndGlyphs" fill="#000" stroke="#000" stroke-width="0.25">1</text>
<text x="1054.74" y="386.24" font-family='"Liberation Sans", sans-serif' font-size="14.8" textLength="15" lengthAdjust="spacingAndGlyphs" fill="#000" stroke="#000" stroke-width="0.25">1.2</text>
<text x="1125.66" y="649.9" font-family='"Liberation Sans", sans-serif' font-size="14.8" textLength="12" lengthAdjust="spacingAndGlyphs" fill="#000" stroke="#000" stroke-width="0.25">50</text>
<text x="1177.24" y="649.9" font-family='"Liberation Sans", sans-serif' font-size="14.8" textLength="18.01" lengthAdjust="spacingAndGlyphs" fill="#000" stroke="#000" stroke-width="0.25">100</text>
<text x="1232.01" y="649.9" font-family='"Liberation Sans", sans-serif' font-size="14.8" textLength="18.01" lengthAdjust="spacingAndGlyphs" fill="#000" stroke="#000" stroke-width="0.25">150</text>
<text x="1286.92" y="649.9" font-family='"Liberation Sans", sans-serif' font-size="14.8" textLength="18.01" lengthAdjust="spacingAndGlyphs" fill="#000" stroke="#000" stroke-width="0.25">200</text>
<text x="1341.69" y="649.9" font-family='"Liberation Sans", sans-serif' font-size="14.8" textLength="18.01" lengthAdjust="spacingAndGlyphs" fill="#000" stroke="#000" stroke-width="0.25">250</text>
<text x="1396.52" y="649.9" font-family='"Liberation Sans", sans-serif' font-size="14.8" textLength="18.01" lengthAdjust="spacingAndGlyphs" fill="#000" stroke="#000" stroke-width="0.25">300</text>
<text x="1451.29" y="649.9" font-family='"Liberation Sans", sans-serif' font-size="14.8" textLength="18.01" lengthAdjust="spacingAndGlyphs" fill="#000" stroke="#000" stroke-width="0.25">350</text>
<text x="1506.14" y="649.9" font-family='"Liberation Sans", sans-serif' font-size="14.8" textLength="18.01" lengthAdjust="spacingAndGlyphs" fill="#000" stroke="#000" stroke-width="0.25">400</text>
<path d="M1076.4,589h3.6M1527.4,589h-3.6M1076.4,547.5h3.6M1527.4,547.5h-3.6M1076.4,506h3.6M1527.4,506h-3.6M1076.4,464.5h3.6M1527.4,464.5h-3.6M1076.4,423h3.6M1527.4,423h-3.6M1130.37,630.5v-3.6M1130.37,381.5v3.6M1185.14,630.5v-3.6M1185.14,381.5v3.6M1239.91,630.5v-3.6M1239.91,381.5v3.6M1294.68,630.5v-3.6M1294.68,381.5v3.6M1349.45,630.5v-3.6M1349.45,381.5v3.6M1404.22,630.5v-3.6M1404.22,381.5v3.6M1458.99,630.5v-3.6M1458.99,381.5v3.6M1513.76,630.5v-3.6M1513.76,381.5v3.6" stroke="#2a2a2a" stroke-width="1.2" fill="none"/>
<text transform="translate(1037.5,506) scale(0.76,1) rotate(-90)" x="0" y="0" text-anchor="middle" font-family='"Liberation Sans", sans-serif' font-size="14" stroke="#000" stroke-width="0.2">probability</text>
<line x1="1202.8" y1="662.9" x2="1232.3" y2="662.9" stroke="#9444b8" stroke-width="1.3"/>
<text x="1120.9" y="667.9" font-family='"Liberation Sans", sans-serif' font-size="14.2" textLength="75.58" lengthAdjust="spacingAndGlyphs" fill="#000" stroke="#000" stroke-width="0.25">transmembrane</text>
<line x1="1330.2" y1="662.9" x2="1359.7" y2="662.9" stroke="#6cb2d0" stroke-width="1.3"/>
<text x="1295.68" y="667.9" font-family='"Liberation Sans", sans-serif' font-size="14.2" textLength="28.2" lengthAdjust="spacingAndGlyphs" fill="#000" stroke="#000" stroke-width="0.25">inside</text>
<line x1="1457.6" y1="662.9" x2="1487.1" y2="662.9" stroke="#daa040" stroke-width="1.3"/>
<text x="1416.48" y="667.9" font-family='"Liberation Sans", sans-serif' font-size="14.2" textLength="34.8" lengthAdjust="spacingAndGlyphs" fill="#000" stroke="#000" stroke-width="0.25">outside</text>
<text font-family='"Liberation Serif", serif' font-weight="bold" fill="#000"><tspan x="1078.57" y="364.5" font-size="31.2" textLength="23.62" lengthAdjust="spacingAndGlyphs">M</tspan><tspan x="1102.19" y="364.5" font-size="30" textLength="26.43" lengthAdjust="spacingAndGlyphs">ok</tspan><tspan x="1128.61" y="364.5" font-size="31.2" textLength="15.28" lengthAdjust="spacingAndGlyphs">F</tspan></text>
<text font-family='"Liberation Sans", sans-serif' fill="#000" stroke="#000" stroke-width="0.25"><tspan x="1150.75" y="362.4" font-size="15" textLength="267.94" lengthAdjust="spacingAndGlyphs">TMHMM posterior probabilities for sp|Q3S2U2.1|MOKF</tspan><tspan x="1418.7" y="367" font-size="12" textLength="7.3" lengthAdjust="spacingAndGlyphs">M</tspan><tspan x="1426" y="362.4" font-size="15" textLength="26.77" lengthAdjust="spacingAndGlyphs">ONPI</tspan></text>
<g clip-path="url(#cG)">
<rect x="53.5" y="733.46" width="94.2" height="3.6" fill="#E69F00"/>
<rect x="147.7" y="734.42" width="10.3" height="10.42" fill="#9400D3"/>
<rect x="158" y="741.79" width="2.6" height="3.6" fill="#56B4E9"/>
<rect x="160.6" y="734.42" width="9.5" height="10.42" fill="#9400D3"/>
<rect x="170.1" y="733.46" width="1.6" height="3.6" fill="#E69F00"/>
<rect x="171.7" y="734.42" width="10" height="10.42" fill="#9400D3"/>
<rect x="181.7" y="741.79" width="20.9" height="3.6" fill="#56B4E9"/>
<rect x="202.6" y="734.42" width="10" height="10.42" fill="#9400D3"/>
<rect x="212.6" y="733.46" width="3.9" height="3.6" fill="#E69F00"/>
<rect x="216.5" y="734.42" width="9.8" height="10.42" fill="#9400D3"/>
<rect x="226.3" y="741.79" width="15.9" height="3.6" fill="#56B4E9"/>
<rect x="242.2" y="734.42" width="10.3" height="10.42" fill="#9400D3"/>
<rect x="252.5" y="733.46" width="251.9" height="3.6" fill="#E69F00"/>
<polygon points="54,966.6 54,966.6 54.67,965.92 55,965.77 62,965.77 62.3,965.6 62.6,965.15 62.9,964.44 63.2,963.52 63.5,962.43 63.83,959.99 64.15,955.78 64.8,945.76 65.2,938.78 65.6,933.25 65.95,931.01 66.3,929.21 66.65,927.98 67,927.42 67.9,927.07 68.5,927 74.4,927 74.8,930.54 75.2,937.42 75.6,947.22 76,956.18 76.33,960.01 76.67,962.91 77,964.52 77.3,965.15 77.6,965.59 78.5,966.6 78.5,966.6" fill="#9400D3"/>
<polygon points="115,966.6 115,966.6 115.67,965.92 116,965.77 116.6,965.77 128,965.77 128.33,965.92 129,966.6 129,966.6" fill="#9400D3"/>
<polygon points="134.95,966.6 134.95,966.6 136.2,965.97 146.95,965.97 147.2,951.86 147.45,939.03 147.7,930.5 148.2,916.45 148.45,880.63 148.7,841.55 148.95,807.17 149.2,791.57 149.45,780.62 149.7,772.77 149.95,770.14 150.2,767.99 150.45,766.34 150.7,765.72 150.95,765.48 155.95,765.48 156.2,767.94 156.45,772.01 156.7,780 156.95,802.99 157.2,835.99 157.45,870.55 157.7,909.52 157.95,914.5 158.2,920 158.45,926.24 158.7,933.65 158.95,943.3 159.2,960.35 159.7,960.35 159.95,948.55 160.2,937.13 160.45,929.03 160.7,922.39 160.95,916.62 161.2,911.46 161.45,886.88 161.7,848.68 161.95,814.38 162.2,792.11 162.45,778.21 162.7,770.64 162.95,765.06 163.2,762.32 163.45,760.85 163.95,759.58 164.45,759.05 164.95,759.02 168.45,759.02 168.7,760.49 168.95,763.88 169.2,769.43 169.45,777.43 169.7,803.97 169.95,839.98 170.2,883.23 170.45,915.55 170.7,921.18 170.95,927.61 171.2,935.34 171.45,945.76 171.7,945.76 171.95,935.34 172.2,927.61 172.7,914.5 172.95,890.91 173.2,877.17 173.45,866.63 173.7,858.22 173.95,853.69 174.2,849.94 174.45,846.82 174.7,844.22 175.45,838.05 175.95,834.8 176.2,833.47 177.2,829.59 177.7,828.12 178.2,827.44 178.95,827.78 179.45,828.7 179.7,830.86 179.95,836.54 180.2,846.82 180.45,859.8 180.7,881.46 180.95,904.09 181.2,917.72 181.45,923.63 181.7,930.5 181.95,939.03 182.2,942.53 182.7,947.77 182.95,950.06 183.95,957.88 184.95,966.18 185.2,966.6 185.2,966.6" fill="#9400D3"/>
<polygon points="201.45,966.6 201.45,966.6 201.7,948.55 201.95,937.13 202.2,929.03 202.45,922.39 202.7,916.62 202.95,890.53 203.2,860.98 203.45,837.55 203.7,820.71 203.95,815.47 204.2,811.23 204.45,807.99 204.7,806.65 204.95,805.98 205.2,805.78 206.2,805.32 207.2,805.33 209.45,806.09 209.7,809.94 209.95,815.93 210.2,826.79 210.45,846.76 210.7,872.81 210.95,899.33 211.2,922.39 211.45,929.03 211.7,937.13 211.95,948.55 212.2,956.18 214.7,956.18 214.95,943.3 215.2,933.65 215.45,926.24 215.7,920 215.95,914.5 216.2,909.52 216.45,871.77 216.7,832.89 216.95,801.7 217.2,779.02 217.45,771.72 217.7,766.1 217.95,762.25 218.2,760.27 218.95,759.28 219.7,759.02 224.2,759.02 224.45,762.59 224.7,768.31 224.95,777.24 225.2,801.05 225.45,833.36 225.7,872.81 225.95,908.58 226.2,913.46 226.45,918.85 226.7,924.92 226.95,932.04 227.2,941.07 227.45,956.18 227.7,966.6 227.7,966.6" fill="#9400D3"/>
<polygon points="240.7,966.6 240.7,966.6 240.95,943.3 241.2,933.65 241.45,926.24 241.7,920 241.95,905.54 242.2,872.77 242.45,838.07 242.7,812.66 242.95,791.52 243.2,778.13 243.45,770.51 243.7,766.74 243.95,764.33 244.2,762.54 244.45,761.69 245.45,761.52 249.7,761.52 249.95,763.69 250.2,768.28 250.45,774.9 250.7,783.19 250.95,803.33 251.2,833.39 251.45,864.82 251.7,894.4 251.95,916.62 252.2,922.39 252.45,929.03 252.7,937.13 252.95,948.55 253.2,964.32 253.45,966.22 253.7,966.6 253.7,966.6" fill="#9400D3"/>
<polygon points="270,966.6 270,966.6 270.67,965.24 271,964.93 279,964.93 279.35,964.69 279.7,964.07 280.72,961.6 281.05,960.59 282.35,955.96 282.68,954.94 283.6,952.73 284.5,950.82 285.1,949.8 285.7,949.09 286.9,948.5 288.1,948.26 288.73,948.51 289.37,949.14 290,949.93 290.62,951.02 291.25,952.56 292.81,957.14 294.06,961.6 294.69,963.66 295.33,965.27 296,966.6 296,966.6" fill="#9400D3"/>
<polygon points="352,966.6 352,966.6 355.8,962.63 356.4,962.19 357,962.01 361,962.01 361.95,962.33 362.91,963.17 363.86,964.4 364.5,965.35 365,966.6 365,966.6" fill="#9400D3"/>
<polygon points="466,966.6 466,966.6 466.67,965.58 467,965.35 468.8,965.35 476,965.35 476.33,965.58 477,966.6 477,966.6" fill="#9400D3"/>
<polygon points="486.5,966.6 486.5,966.6 486.8,957.05 487.1,945.76 487.7,904.08 488.05,890.59 488.4,883.23 488.77,880.99 489.13,879.56 489.5,879.07 490.11,879.07 497.7,879.07 498.05,887.09 498.4,904.08 498.7,931.79 499,956.18 499.3,962.26 499.6,966.6 499.6,966.6" fill="#9400D3"/>
<polyline points="53.5,931.17 60.32,931.2 60.97,931.4 61.61,931.81 62.26,932.43 62.9,933.25 63.22,934.45 63.54,936.8 64.18,942.95 64.8,948.33 65.4,953.85 65.7,956 66,957.22 66.33,957.87 67,958.88 67.67,959.44 74.4,959.51 74.72,958.92 75.04,957.44 75.68,953.55 76,952.01 76.67,949.42 77,948.88 147.7,948.88 148.03,951.55 148.37,956.76 148.7,960.35 149.1,961.8 149.5,962.43 157.6,962.43 158.2,862.39 158.5,805.29 158.8,771.94 159.15,806.04 159.5,862.39 159.9,925.13 160.3,962.43 170.4,962.43 170.72,961.56 171.04,959.5 171.36,957.03 171.68,954.96 172,954.1 181.2,954.1 181.52,945.43 181.85,925.07 182.18,901.51 182.5,883.23 182.8,871.54 183.1,860.52 183.4,850.75 183.7,842.84 184,837.38 184.33,833.13 184.67,829.39 185,826.23 185.33,823.69 185.67,821.83 186,820.71 186.64,819.47 186.96,819.02 187.28,818.73 187.6,818.62 200.5,818.62 200.83,830.67 201.17,857.07 201.5,883.23 201.83,907 202.17,930.54 202.5,945.76 202.85,953.69 203.2,957.22 211,957.22 211.3,956.57 211.6,954.96 212.2,951.1 212.5,949.93 213.1,948.73 213.4,948.26 213.7,947.96 214,947.84 214.32,948.77 214.65,951.01 214.98,953.75 215.65,958.8 216,960.35 225.5,960.35 225.9,919.92 226.3,862.39 226.7,827.42 227.1,798.29 227.5,786.11 239.1,786.11 239.4,805.15 239.7,848.46 240,895.29 240.3,924.92 240.7,942.47 241.1,955.34 241.5,960.35 252,960.35 252.32,957.75 252.98,946.31 253.3,943.67 257.64,943.18 262.9,943.05 263.5,944.72 280.9,944.72 281.21,944.87 281.52,945.28 282.14,946.71 283.38,950.49 283.69,951.32 286.15,956.47 286.76,957.59 287.37,958.49 287.99,959.09 288.6,959.31 288.92,959.12 289.23,958.66 289.87,957.45 290.18,956.99 290.5,956.8 349.1,956.8 349.42,956.87 350.07,957.31 351.36,958.73 352,959.31 354.4,960.91 355.9,961.63 356.8,961.81 365.23,962.28 383.61,962.87 405.9,963.06 406.5,960.56 466.5,960.56 466.83,961.42 467.17,963.03 467.5,963.89 497.5,963.89 497.9,949.9 498.3,924.92 498.65,898.23 499,881.15 504.4,881.15" fill="none" stroke="#5eb6e4" stroke-width="1.3" stroke-linejoin="round"/>
<polyline points="53.5,792.36 64.5,792.36 64.8,792.56 65.1,793.1 65.4,793.87 66,795.7 66.3,797.04 66.9,800.86 67.2,802.38 67.5,802.99 74,802.99 74.3,802.41 74.6,800.87 74.9,798.69 75.5,793.61 75.8,790.17 76.4,780.82 76.7,777.16 77,775.69 146.5,775.69 146.9,799.03 147.3,841.55 147.75,900.52 148.2,945.76 148.6,957.58 149,962.43 157.5,962.43 157.8,961.78 158.1,960.23 158.4,958.38 158.7,956.83 159,956.18 159.3,956.83 159.6,958.38 159.9,960.23 160.2,961.78 160.5,962.43 170.4,962.43 170.75,931.66 171.1,883.23 171.45,842.51 171.8,819.46 172.2,839.99 172.6,862.39 172.9,864.77 173.2,866.44 173.5,867.6 174.4,870.03 174.7,871.17 175,872.81 175.33,875.82 175.67,880.09 176.33,890.01 176.67,894.48 177,897.82 177.64,902.84 177.96,904.96 178.28,906.44 178.6,906.99 201.8,906.99 202.2,911.24 202.6,919.47 203,924.92 203.33,926.28 203.67,927.26 204,927.63 208,927.63 208.31,927.2 208.62,925.95 208.94,923.94 209.25,921.2 209.56,917.8 209.88,913.77 210.19,909.18 210.5,904.08 210.8,893.64 211.1,875.6 211.4,854.45 211.7,834.65 212,820.71 212.3,811.14 212.6,802.11 212.9,794.53 213.2,789.31 213.5,787.36 213.83,796.49 214.17,817.66 214.5,841.55 214.82,870.69 215.15,907.22 215.48,939.58 215.8,956.18 216.15,960.62 216.5,962.43 225.5,962.43 226.3,938.05 239.1,938.05 239.45,940.22 239.8,945.36 240.15,951.37 240.5,956.18 240.83,959.83 241.17,963.1 241.5,964.52 251.8,964.52 252.2,921.84 252.6,862.39 252.93,834.98 253.25,810.06 253.57,791.88 253.9,784.65 254.81,783.85 256.04,783.14 257.56,782.65 267.25,780.43 270.88,779.87 274.2,779.65 276.94,779.75 280.31,780.12 281.56,780.54 284.06,781.78 285.99,782.5 286.97,782.75 287.64,782.69 287.98,782.45 288.66,781.63 289,781.11 289.33,780.11 289.67,778.41 290.33,774.33 290.67,772.67 291,771.73 291.92,770.59 292.85,769.7 293.77,769.11 294.69,768.83 360.7,768.81 361.03,768.66 361.36,768.26 362.34,766.41 362.67,765.86 363,765.48 365.15,763.95 366.08,763.54 367,763.39 398.2,763.6 399,764.44 475.5,764.44 475.83,763.9 476.17,762.89 476.5,762.35 487.1,762.35 487.55,767.58 488,779.02 488.4,798.98 488.8,820.71 489.25,837.32 489.7,845.72 500,845.72 500.33,845.18 500.67,844.17 501,843.63 504.4,843.63" fill="none" stroke="#e3a21c" stroke-width="1.3" stroke-linejoin="round"/>
</g>
<path d="M53.5,716.5H504.4V966.6H53.5" fill="none" stroke="#333" stroke-width="1.6"/>
<path d="M53.5,715.7V967.4" fill="none" stroke="#383838" stroke-width="1.8"/>
<text x="40.72" y="971.34" font-family='"Liberation Sans", sans-serif' font-size="14.8" textLength="6" lengthAdjust="spacingAndGlyphs" fill="#000" stroke="#000" stroke-width="0.25">0</text>
<text x="31.84" y="929.66" font-family='"Liberation Sans", sans-serif' font-size="14.8" textLength="15" lengthAdjust="spacingAndGlyphs" fill="#000" stroke="#000" stroke-width="0.25">0.2</text>
<text x="31.61" y="887.97" font-family='"Liberation Sans", sans-serif' font-size="14.8" textLength="15" lengthAdjust="spacingAndGlyphs" fill="#000" stroke="#000" stroke-width="0.25">0.4</text>
<text x="31.77" y="846.29" font-family='"Liberation Sans", sans-serif' font-size="14.8" textLength="15" lengthAdjust="spacingAndGlyphs" fill="#000" stroke="#000" stroke-width="0.25">0.6</text>
<text x="31.77" y="804.61" font-family='"Liberation Sans", sans-serif' font-size="14.8" textLength="15" lengthAdjust="spacingAndGlyphs" fill="#000" stroke="#000" stroke-width="0.25">0.8</text>
<text x="40.82" y="762.92" font-family='"Liberation Sans", sans-serif' font-size="14.8" textLength="6" lengthAdjust="spacingAndGlyphs" fill="#000" stroke="#000" stroke-width="0.25">1</text>
<text x="31.84" y="721.24" font-family='"Liberation Sans", sans-serif' font-size="14.8" textLength="15" lengthAdjust="spacingAndGlyphs" fill="#000" stroke="#000" stroke-width="0.25">1.2</text>
<text x="131.02" y="986" font-family='"Liberation Sans", sans-serif' font-size="14.8" textLength="18.01" lengthAdjust="spacingAndGlyphs" fill="#000" stroke="#000" stroke-width="0.25">200</text>
<text x="217.14" y="986" font-family='"Liberation Sans", sans-serif' font-size="14.8" textLength="18.01" lengthAdjust="spacingAndGlyphs" fill="#000" stroke="#000" stroke-width="0.25">400</text>
<text x="302.97" y="986" font-family='"Liberation Sans", sans-serif' font-size="14.8" textLength="18.01" lengthAdjust="spacingAndGlyphs" fill="#000" stroke="#000" stroke-width="0.25">600</text>
<text x="388.99" y="986" font-family='"Liberation Sans", sans-serif' font-size="14.8" textLength="18.01" lengthAdjust="spacingAndGlyphs" fill="#000" stroke="#000" stroke-width="0.25">800</text>
<text x="471.8" y="986" font-family='"Liberation Sans", sans-serif' font-size="14.8" textLength="24.01" lengthAdjust="spacingAndGlyphs" fill="#000" stroke="#000" stroke-width="0.25">1000</text>
<path d="M53.5,924.92h3.6M504.4,924.92h-3.6M53.5,883.23h3.6M504.4,883.23h-3.6M53.5,841.55h3.6M504.4,841.55h-3.6M53.5,799.87h3.6M504.4,799.87h-3.6M53.5,758.18h3.6M504.4,758.18h-3.6M138.78,966.6v-3.6M138.78,716.5v3.6M224.76,966.6v-3.6M224.76,716.5v3.6M310.74,966.6v-3.6M310.74,716.5v3.6M396.72,966.6v-3.6M396.72,716.5v3.6M482.7,966.6v-3.6M482.7,716.5v3.6" stroke="#2a2a2a" stroke-width="1.2" fill="none"/>
<text transform="translate(14.6,841.55) scale(0.76,1) rotate(-90)" x="0" y="0" text-anchor="middle" font-family='"Liberation Sans", sans-serif' font-size="14" stroke="#000" stroke-width="0.2">probability</text>
<line x1="180.2" y1="999.1" x2="209.7" y2="999.1" stroke="#9444b8" stroke-width="1.3"/>
<text x="98.3" y="1004.1" font-family='"Liberation Sans", sans-serif' font-size="14.2" textLength="75.58" lengthAdjust="spacingAndGlyphs" fill="#000" stroke="#000" stroke-width="0.25">transmembrane</text>
<line x1="307.6" y1="999.1" x2="337.1" y2="999.1" stroke="#6cb2d0" stroke-width="1.3"/>
<text x="273.08" y="1004.1" font-family='"Liberation Sans", sans-serif' font-size="14.2" textLength="28.2" lengthAdjust="spacingAndGlyphs" fill="#000" stroke="#000" stroke-width="0.25">inside</text>
<line x1="435" y1="999.1" x2="464.5" y2="999.1" stroke="#daa040" stroke-width="1.3"/>
<text x="393.88" y="1004.1" font-family='"Liberation Sans", sans-serif' font-size="14.2" textLength="34.8" lengthAdjust="spacingAndGlyphs" fill="#000" stroke="#000" stroke-width="0.25">outside</text>
<text font-family='"Liberation Serif", serif' font-weight="bold" fill="#000"><tspan x="53.27" y="699.3" font-size="31.2" textLength="23.52" lengthAdjust="spacingAndGlyphs">M</tspan><tspan x="76.79" y="699.3" font-size="30" textLength="26.31" lengthAdjust="spacingAndGlyphs">ok</tspan><tspan x="103.1" y="699.3" font-size="31.2" textLength="19.38" lengthAdjust="spacingAndGlyphs">G</tspan></text>
<text font-family='"Liberation Sans", sans-serif' fill="#000" stroke="#000" stroke-width="0.25"><tspan x="128.26" y="697.9" font-size="15" textLength="268.59" lengthAdjust="spacingAndGlyphs">TMHMM posterior probabilities for sp|Q3S2U3.1|MOKG</tspan><tspan x="396.84" y="702.5" font-size="12" textLength="7.26" lengthAdjust="spacingAndGlyphs">M</tspan><tspan x="404.11" y="697.9" font-size="15" textLength="26.65" lengthAdjust="spacingAndGlyphs">ONPI</tspan></text>
<g clip-path="url(#cH)">
<rect x="562.4" y="735.92" width="450.7" height="3.6" fill="#E69F00"/>
<polygon points="781.8,966.1 781.8,966.1 782.15,965.59 782.5,965.28 799,965.28 799.35,965.59 799.7,966.1 799.7,966.1" fill="url(#pH)"/>
<polygon points="821.6,966.1 821.6,966.1 822.05,962.79 822.5,959.93 822.83,958.25 823.17,956.83 823.5,956.22 827.1,956.22 843,956.22 843.34,956.6 843.68,957.57 844.02,958.93 844.7,961.99 845.1,963.95 845.5,966.1 845.5,966.1" fill="url(#pH)"/>
<polygon points="877.6,966.1 877.6,966.1 878.05,965.59 878.5,965.28 878.8,965.28 913,965.28 913.3,965.59 913.6,966.1 913.6,966.1" fill="url(#pH)"/>
<polyline points="562.4,965.28 846.2,965.28 847,956.64 1013.1,956.64" fill="none" stroke="#5eb6e4" stroke-width="1.3" stroke-linejoin="round"/>
<polyline points="562.4,761.17 821.3,761.17 821.6,761.79 823.1,768.31 823.4,769.24 823.7,769.61 847.7,769.61 848.5,768.58 881.2,768.58 882,769.81 883.51,769.81 903.1,769.81 904,768.58 1013.1,768.58" fill="none" stroke="#e3a21c" stroke-width="1.3" stroke-linejoin="round"/>
</g>
<path d="M562.4,719.2H1013.1V966.1H562.4" fill="none" stroke="#333" stroke-width="1.6"/>
<path d="M562.4,718.4V966.9" fill="none" stroke="#a0a0a0" stroke-width="1.8"/>
<text x="549.62" y="970.84" font-family='"Liberation Sans", sans-serif' font-size="14.8" textLength="6" lengthAdjust="spacingAndGlyphs" fill="#000" stroke="#000" stroke-width="0.25">0</text>
<text x="540.74" y="929.69" font-family='"Liberation Sans", sans-serif' font-size="14.8" textLength="15" lengthAdjust="spacingAndGlyphs" fill="#000" stroke="#000" stroke-width="0.25">0.2</text>
<text x="540.51" y="888.54" font-family='"Liberation Sans", sans-serif' font-size="14.8" textLength="15" lengthAdjust="spacingAndGlyphs" fill="#000" stroke="#000" stroke-width="0.25">0.4</text>
<text x="540.67" y="847.39" font-family='"Liberation Sans", sans-serif' font-size="14.8" textLength="15" lengthAdjust="spacingAndGlyphs" fill="#000" stroke="#000" stroke-width="0.25">0.6</text>
<text x="540.67" y="806.24" font-family='"Liberation Sans", sans-serif' font-size="14.8" textLength="15" lengthAdjust="spacingAndGlyphs" fill="#000" stroke="#000" stroke-width="0.25">0.8</text>
<text x="549.72" y="765.09" font-family='"Liberation Sans", sans-serif' font-size="14.8" textLength="6" lengthAdjust="spacingAndGlyphs" fill="#000" stroke="#000" stroke-width="0.25">1</text>
<text x="540.74" y="723.94" font-family='"Liberation Sans", sans-serif' font-size="14.8" textLength="15" lengthAdjust="spacingAndGlyphs" fill="#000" stroke="#000" stroke-width="0.25">1.2</text>
<text x="606.33" y="984.7" font-family='"Liberation Sans", sans-serif' font-size="14.8" textLength="12" lengthAdjust="spacingAndGlyphs" fill="#000" stroke="#000" stroke-width="0.25">50</text>
<text x="652.88" y="984.7" font-family='"Liberation Sans", sans-serif' font-size="14.8" textLength="18.01" lengthAdjust="spacingAndGlyphs" fill="#000" stroke="#000" stroke-width="0.25">100</text>
<text x="702.62" y="984.7" font-family='"Liberation Sans", sans-serif' font-size="14.8" textLength="18.01" lengthAdjust="spacingAndGlyphs" fill="#000" stroke="#000" stroke-width="0.25">150</text>
<text x="752.5" y="984.7" font-family='"Liberation Sans", sans-serif' font-size="14.8" textLength="18.01" lengthAdjust="spacingAndGlyphs" fill="#000" stroke="#000" stroke-width="0.25">200</text>
<text x="802.24" y="984.7" font-family='"Liberation Sans", sans-serif' font-size="14.8" textLength="18.01" lengthAdjust="spacingAndGlyphs" fill="#000" stroke="#000" stroke-width="0.25">250</text>
<text x="852.04" y="984.7" font-family='"Liberation Sans", sans-serif' font-size="14.8" textLength="18.01" lengthAdjust="spacingAndGlyphs" fill="#000" stroke="#000" stroke-width="0.25">300</text>
<text x="901.78" y="984.7" font-family='"Liberation Sans", sans-serif' font-size="14.8" textLength="18.01" lengthAdjust="spacingAndGlyphs" fill="#000" stroke="#000" stroke-width="0.25">350</text>
<text x="951.6" y="984.7" font-family='"Liberation Sans", sans-serif' font-size="14.8" textLength="18.01" lengthAdjust="spacingAndGlyphs" fill="#000" stroke="#000" stroke-width="0.25">400</text>
<text x="1001.34" y="984.7" font-family='"Liberation Sans", sans-serif' font-size="14.8" textLength="18.01" lengthAdjust="spacingAndGlyphs" fill="#000" stroke="#000" stroke-width="0.25">450</text>
<path d="M562.4,924.95h3.6M1013.1,924.95h-3.6M562.4,883.8h3.6M1013.1,883.8h-3.6M562.4,842.65h3.6M1013.1,842.65h-3.6M562.4,801.5h3.6M1013.1,801.5h-3.6M562.4,760.35h3.6M1013.1,760.35h-3.6M611.04,966.1v-3.6M611.04,719.2v3.6M660.78,966.1v-3.6M660.78,719.2v3.6M710.52,966.1v-3.6M710.52,719.2v3.6M760.26,966.1v-3.6M760.26,719.2v3.6M810,966.1v-3.6M810,719.2v3.6M859.74,966.1v-3.6M859.74,719.2v3.6M909.48,966.1v-3.6M909.48,719.2v3.6M959.22,966.1v-3.6M959.22,719.2v3.6M1008.96,966.1v-3.6M1008.96,719.2v3.6" stroke="#2a2a2a" stroke-width="1.2" fill="none"/>
<text transform="translate(523.5,842.65) scale(0.76,1) rotate(-90)" x="0" y="0" text-anchor="middle" font-family='"Liberation Sans", sans-serif' font-size="14" stroke="#000" stroke-width="0.2">probability</text>
<line x1="688.7" y1="998.1" x2="718.2" y2="998.1" stroke="#9444b8" stroke-width="1.3"/>
<text x="606.8" y="1003.1" font-family='"Liberation Sans", sans-serif' font-size="14.2" textLength="75.58" lengthAdjust="spacingAndGlyphs" fill="#000" stroke="#000" stroke-width="0.25">transmembrane</text>
<line x1="816.1" y1="998.1" x2="845.6" y2="998.1" stroke="#6cb2d0" stroke-width="1.3"/>
<text x="781.58" y="1003.1" font-family='"Liberation Sans", sans-serif' font-size="14.2" textLength="28.2" lengthAdjust="spacingAndGlyphs" fill="#000" stroke="#000" stroke-width="0.25">inside</text>
<line x1="943.5" y1="998.1" x2="973" y2="998.1" stroke="#daa040" stroke-width="1.3"/>
<text x="902.38" y="1003.1" font-family='"Liberation Sans", sans-serif' font-size="14.2" textLength="34.8" lengthAdjust="spacingAndGlyphs" fill="#000" stroke="#000" stroke-width="0.25">outside</text>
<text font-family='"Liberation Serif", serif' font-weight="bold" fill="#000"><tspan x="563.57" y="700.7" font-size="31.2" textLength="23.66" lengthAdjust="spacingAndGlyphs">M</tspan><tspan x="587.24" y="700.7" font-size="30" textLength="26.48" lengthAdjust="spacingAndGlyphs">ok</tspan><tspan x="613.71" y="700.7" font-size="31.2" textLength="19.5" lengthAdjust="spacingAndGlyphs">H</tspan></text>
<text font-family='"Liberation Sans", sans-serif' fill="#000" stroke="#000" stroke-width="0.25"><tspan x="637.46" y="700.8" font-size="15" textLength="267.99" lengthAdjust="spacingAndGlyphs">TMHMM posterior probabilities for sp|Q3S2U4.1|MOKH</tspan><tspan x="905.44" y="705.4" font-size="12" textLength="7.26" lengthAdjust="spacingAndGlyphs">M</tspan><tspan x="912.71" y="700.8" font-size="15" textLength="26.65" lengthAdjust="spacingAndGlyphs">ONPI</tspan></text>
<g clip-path="url(#cI)">
<rect x="1076.2" y="742.58" width="21.6" height="3.6" fill="#56B4E9"/>
<rect x="1097.8" y="735.22" width="19.3" height="10.42" fill="#9400D3"/>
<rect x="1117.1" y="734.25" width="36.6" height="3.6" fill="#E69F00"/>
<rect x="1153.7" y="735.22" width="16.7" height="10.42" fill="#9400D3"/>
<rect x="1170.4" y="742.58" width="5.2" height="3.6" fill="#56B4E9"/>
<rect x="1175.6" y="735.22" width="19.3" height="10.42" fill="#9400D3"/>
<rect x="1194.9" y="734.25" width="8.3" height="3.6" fill="#E69F00"/>
<rect x="1203.2" y="735.22" width="18.8" height="10.42" fill="#9400D3"/>
<rect x="1222" y="742.58" width="6.4" height="3.6" fill="#56B4E9"/>
<rect x="1228.4" y="735.22" width="19.3" height="10.42" fill="#9400D3"/>
<rect x="1247.7" y="734.25" width="21.9" height="3.6" fill="#E69F00"/>
<rect x="1269.6" y="735.22" width="18.6" height="10.42" fill="#9400D3"/>
<rect x="1288.2" y="742.58" width="5.1" height="3.6" fill="#56B4E9"/>
<rect x="1293.3" y="735.22" width="17.3" height="10.42" fill="#9400D3"/>
<rect x="1310.6" y="734.25" width="16.2" height="3.6" fill="#E69F00"/>
<rect x="1326.8" y="735.22" width="19.1" height="10.42" fill="#9400D3"/>
<rect x="1345.9" y="742.58" width="12.3" height="3.6" fill="#56B4E9"/>
<rect x="1358.2" y="735.22" width="19.4" height="10.42" fill="#9400D3"/>
<rect x="1377.6" y="734.25" width="2.5" height="3.6" fill="#E69F00"/>
<rect x="1380.1" y="735.22" width="19.4" height="10.42" fill="#9400D3"/>
<rect x="1399.5" y="742.58" width="5.1" height="3.6" fill="#56B4E9"/>
<rect x="1404.6" y="735.22" width="19.1" height="10.42" fill="#9400D3"/>
<rect x="1423.7" y="734.25" width="11.1" height="3.6" fill="#E69F00"/>
<rect x="1434.8" y="735.22" width="20.1" height="10.42" fill="#9400D3"/>
<rect x="1454.9" y="742.58" width="43" height="3.6" fill="#56B4E9"/>
<rect x="1497.9" y="735.22" width="19.9" height="10.42" fill="#9400D3"/>
<rect x="1517.8" y="734.25" width="11.4" height="3.6" fill="#E69F00"/>
<polygon points="1090,967.3 1090,967.3 1091,959.3 1091.25,957.58 1091.5,956.32 1091.75,955.4 1092.25,953.99 1092.75,952.92 1094.25,950.19 1095,949.23 1095.25,937.65 1095.5,927.16 1095.75,918.89 1096,911.84 1096.25,905.59 1096.5,899.91 1096.75,894.68 1097.25,885.21 1097.75,876.73 1098,847.96 1098.25,817.2 1098.5,806.89 1098.75,802.47 1099,799.16 1100,790.22 1101,778.71 1101.5,773.59 1101.75,771.35 1102.5,765.81 1103,762.44 1103.5,760.03 1103.75,759.3 1104,758.97 1110,758.97 1110.25,759.88 1110.5,761.87 1111.25,769.72 1111.5,771.47 1112,773.44 1112.5,774.98 1113,775.63 1116.25,775.63 1116.5,781.44 1116.75,795.97 1117,820.59 1117.25,848.55 1117.5,878.36 1118,887.02 1118.25,891.72 1118.5,896.73 1118.75,902.12 1119,908.01 1119.25,914.54 1119.5,922.01 1119.75,930.99 1120,934.23 1120.75,940.52 1121.75,947.04 1122.25,949.82 1122.75,951.94 1123,952.72 1124,954.88 1124.5,955.55 1125,955.84 1125.25,955.45 1125.5,954.54 1125.75,953.16 1126,951.39 1126.5,946.82 1127.5,936.05 1127.75,932.79 1128,928.95 1128.25,924.69 1128.75,915.63 1129,911.47 1129.25,907.81 1129.5,904.8 1129.75,902.82 1130.5,898.37 1130.75,895.7 1131.25,886.11 1131.5,881.72 1132,873.55 1132.5,871.07 1133,869.27 1133.25,868.64 1134,867.3 1135.25,865.89 1136.25,865.27 1136.75,865.3 1137.5,865.95 1139,868.34 1141.5,871.03 1142.75,873.16 1143.25,874.35 1144,876.59 1144.25,877.53 1144.5,878.89 1144.75,880.66 1145,882.85 1145.5,887.83 1146,892.3 1147,900.37 1147.25,902.07 1147.5,903.42 1147.75,904.36 1148,904.8 1150,904.8 1150.25,904.41 1150.5,898.83 1150.75,893.68 1151,888.86 1151.25,884.33 1151.75,875.92 1152,867.8 1152.25,854.38 1152.5,842.3 1153,818.82 1153.25,808.4 1153.5,800.63 1153.75,796.6 1154,793.08 1154.25,790.02 1154.5,787.37 1154.75,785.19 1155.25,781.47 1156.25,775.26 1157,771.42 1157.75,768.87 1159,766.95 1159.75,766.33 1160.25,766.31 1161.5,767.1 1162.5,768.34 1163,769.52 1163.75,772.51 1164.25,775.23 1165,779.8 1165.5,783.47 1165.75,785.61 1166,787.96 1166.25,790.69 1166.75,797.01 1167,800.63 1167.25,804.86 1167.5,809.86 1167.75,815.87 1168,823.12 1168.25,831.85 1168.5,842.3 1168.75,866.55 1169,881.72 1169.5,890.75 1169.75,895.7 1170,901.01 1170.25,906.78 1170.5,913.17 1170.75,920.42 1171,929.03 1171.25,940.24 1171.5,967.3 1171.5,967.3" fill="url(#pI)"/>
<polygon points="1174.7,967.3 1174.7,967.3 1174.95,946.34 1175.2,933.07 1175.45,923.66 1175.7,915.95 1175.95,909.26 1176.2,903.26 1176.45,897.77 1176.95,887.93 1177.2,883.45 1177.7,875.13 1177.95,863.3 1178.2,847.76 1178.45,835.24 1178.7,825.46 1178.95,818.66 1179.2,813.22 1179.45,808.58 1179.7,804.57 1179.95,801.22 1180.2,798.56 1180.45,796.82 1181.2,793.26 1181.95,790.96 1182.45,790.31 1183.45,790.22 1190.2,790.22 1190.45,790.45 1190.7,791.02 1190.95,792.11 1191.2,793.77 1191.7,798.09 1192.2,803.63 1192.45,807.33 1192.7,812.1 1192.95,818.58 1193.2,826.99 1193.45,836.74 1193.7,847.82 1193.95,860.58 1194.2,876.73 1194.7,885.21 1194.95,889.8 1195.2,894.68 1195.45,899.91 1195.7,905.59 1195.95,911.84 1196.2,918.89 1196.45,927.16 1196.7,937.65 1196.95,955.2 1197.2,967.3 1197.2,967.3" fill="url(#pI)"/>
<polygon points="1199.7,967.3 1199.7,967.3 1199.95,946.34 1200.2,933.07 1200.45,923.66 1200.7,915.95 1200.95,909.26 1201.2,903.26 1201.45,897.77 1201.95,887.93 1202.2,883.45 1202.7,875.13 1202.95,846.1 1203.2,817.72 1203.45,800.53 1203.7,787.36 1203.95,780.22 1204.2,774.78 1204.45,770.44 1204.7,767.21 1204.95,765.55 1205.2,764.74 1205.95,763.45 1206.7,763.13 1217.45,763.13 1217.95,763.9 1218.2,764.78 1218.7,767.66 1219.2,771.47 1219.45,774.73 1219.7,779.43 1219.95,785.61 1220.2,793.87 1220.45,804.4 1220.7,823.67 1220.95,855.21 1221.2,876.73 1221.7,885.21 1221.95,889.8 1222.2,894.68 1222.45,899.91 1222.7,905.59 1222.95,911.84 1223.2,918.89 1223.45,927.16 1223.7,937.65 1223.95,955.2 1224.2,967.3 1224.2,967.3" fill="url(#pI)"/>
<polygon points="1225.9,967.3 1225.9,967.3 1226.15,946.34 1226.4,933.07 1226.65,923.66 1226.9,915.95 1227.15,909.26 1227.4,903.26 1227.65,897.77 1228.15,887.93 1228.4,883.45 1228.9,875.13 1229.15,845.92 1229.4,817.22 1229.65,800.34 1229.9,787.79 1230.15,781.78 1230.4,776.98 1230.65,773.04 1230.9,769.92 1231.15,767.67 1231.4,766.65 1231.65,766.08 1232.4,765.4 1233.4,765.22 1243.4,765.22 1243.65,765.52 1243.9,766.16 1244.15,767.56 1244.4,769.52 1244.65,771.86 1244.9,774.65 1245.15,777.84 1245.4,781.74 1245.65,787.13 1245.9,794.73 1246.15,805.12 1246.4,817.77 1246.65,832.68 1246.9,857.35 1247.15,879.19 1247.65,887.93 1247.9,892.69 1248.15,897.77 1248.4,903.26 1248.65,909.26 1248.9,915.95 1249.15,923.66 1249.4,933.07 1249.65,946.34 1249.9,967.3 1249.9,967.3" fill="url(#pI)"/>
<polygon points="1262,967.3 1262,967.3 1262.25,940.24 1262.5,929.03 1262.75,920.42 1263,913.17 1263.25,906.78 1263.5,901.01 1263.75,895.7 1264,890.75 1264.25,886.11 1264.75,877.54 1265,852.72 1265.25,843.82 1265.5,837.62 1265.75,833.2 1266.25,826.04 1266.5,821.47 1266.75,815.14 1267.25,801.15 1267.5,794.42 1267.75,788.54 1268,783.97 1268.5,777.39 1269,771.69 1269.25,769.45 1269.5,767.6 1269.75,766.18 1270,765.22 1270.75,763.79 1271.5,763.13 1280.5,763.13 1280.75,763.42 1281.25,765 1281.5,766.24 1281.75,767.82 1282.5,773.55 1282.75,776.24 1283,779.6 1283.25,783.64 1283.5,788.79 1283.75,794.84 1284,801.63 1284.25,809.48 1284.5,820.94 1284.75,837.02 1285,857.21 1285.25,879.19 1285.75,887.93 1286,892.69 1286.25,897.77 1286.5,903.26 1286.75,909.26 1287,915.95 1287.25,923.66 1287.5,933.07 1287.75,946.34 1288,967.3 1288,967.3" fill="url(#pI)"/>
<polygon points="1290.9,967.3 1290.9,967.3 1291.15,940.24 1291.4,929.03 1291.65,920.42 1291.9,913.17 1292.15,906.78 1292.4,901.01 1292.65,895.7 1292.9,890.75 1293.15,886.11 1293.65,877.54 1293.9,842.3 1294.15,815.18 1294.4,790.8 1294.65,777.41 1294.9,767.74 1295.15,763.73 1295.4,761.01 1295.65,759.56 1295.9,758.97 1309.15,758.97 1309.4,760.81 1309.65,766.96 1309.9,779.28 1310.15,797.07 1310.4,842.3 1310.65,880.87 1311.15,889.8 1311.4,894.68 1311.65,899.91 1311.9,905.59 1312.15,911.84 1312.4,918.89 1312.65,927.16 1312.9,937.65 1313.15,955.2 1313.4,967.3 1313.4,967.3" fill="url(#pI)"/>
<polygon points="1325.6,967.3 1325.6,967.3 1325.85,940.24 1326.1,929.03 1326.35,920.42 1326.6,913.17 1326.85,906.78 1327.1,901.01 1327.35,895.7 1327.6,890.75 1327.85,886.11 1328.35,877.54 1328.6,842.3 1328.85,814.77 1329.1,793.5 1329.35,779.58 1329.6,771.86 1329.85,767.82 1330.1,764.43 1330.35,761.94 1330.6,760.21 1330.85,759.28 1331.1,758.97 1343.85,758.97 1344.1,760.13 1344.35,763.38 1344.6,771.49 1344.85,782.76 1345.1,809.31 1345.35,857.06 1345.6,883.45 1346.1,892.69 1346.35,897.77 1346.6,903.26 1346.85,909.26 1347.1,915.95 1347.35,923.66 1347.6,933.07 1347.85,946.34 1348.1,967.3 1348.1,967.3" fill="url(#pI)"/>
<polygon points="1355.2,967.3 1355.2,967.3 1355.45,940.24 1355.7,929.03 1355.95,920.42 1356.2,913.17 1356.45,906.78 1356.7,901.01 1356.95,895.7 1357.2,890.75 1357.45,886.11 1357.95,877.54 1358.2,842.3 1358.45,817.25 1358.7,797.35 1358.95,782.74 1359.2,773.55 1359.45,769 1359.7,765.15 1359.95,762.1 1360.2,759.95 1360.45,759.13 1360.7,758.97 1374.45,758.97 1374.7,760.34 1374.95,764.06 1375.2,770.35 1375.45,779.11 1375.7,790.22 1375.95,837.96 1376.2,881.72 1376.7,890.75 1376.95,895.7 1377.2,901.01 1377.45,906.78 1377.7,913.17 1377.95,920.42 1378.2,929.03 1378.45,940.24 1378.7,967.3 1378.7,967.3" fill="url(#pI)"/>
<polygon points="1377.7,967.3 1377.7,967.3 1377.95,940.24 1378.2,929.03 1378.45,920.42 1378.7,913.17 1378.95,906.78 1379.2,901.01 1379.45,895.7 1379.7,890.75 1379.95,886.11 1380.45,877.54 1380.7,842.3 1380.95,826.28 1381.2,813.98 1381.45,804.61 1381.7,797.39 1382.2,785.65 1382.45,780.31 1382.7,775.51 1382.95,771.35 1383.2,767.96 1383.45,765.67 1383.7,763.93 1384.2,761.12 1384.7,759.3 1385.2,758.97 1396.95,758.97 1397.2,759.56 1397.45,761.17 1397.7,763.89 1397.95,767.69 1398.2,772.53 1398.45,778.59 1398.7,794.83 1398.95,816.53 1399.2,849.82 1399.45,875.92 1399.95,884.33 1400.2,888.86 1400.45,893.68 1400.7,898.83 1400.95,904.41 1401.2,910.53 1401.45,917.4 1401.7,925.37 1401.95,935.28 1402.2,950.18 1402.45,967.3 1402.45,967.3" fill="url(#pI)"/>
<polygon points="1402.5,967.3 1402.5,967.3 1402.9,940.34 1403.3,921.47 1403.62,916.91 1403.93,913.66 1404.25,911.26 1404.88,907.27 1405.2,904.8 1405.56,901.28 1406.28,893.75 1406.64,890.51 1407,888.13 1407.31,886.64 1407.62,885.31 1408.25,883.05 1408.56,882.1 1409.19,880.49 1410.17,878.37 1410.83,877.17 1411.17,876.81 1411.81,876.67 1415.5,876.67 1415.81,876.78 1416.12,877.08 1416.75,878.1 1418.62,882.28 1419.25,883.97 1419.88,885.91 1420.5,888.13 1421.17,890.72 1421.5,892.21 1421.83,893.95 1422.17,896.03 1422.5,898.55 1422.8,901.66 1423.1,905.97 1423.4,911.44 1423.7,918.01 1424,925.63 1424.7,956.88 1425.2,967.3 1425.2,967.3" fill="url(#pI)"/>
<polygon points="1431.8,967.3 1431.8,967.3 1432.05,940.24 1432.3,929.03 1432.55,920.42 1432.8,913.17 1433.05,906.78 1433.3,901.01 1433.55,895.7 1434.05,886.11 1434.3,881.72 1434.8,873.55 1435.05,856.99 1435.3,844.14 1435.55,834.24 1435.8,826.56 1436.05,820.42 1436.3,815.16 1436.55,810.61 1436.8,806.52 1437.05,802.87 1437.3,799.66 1437.55,796.84 1437.8,794.25 1438.3,789.6 1438.8,785.5 1439.3,781.88 1439.55,780.28 1440.05,777.57 1440.55,775.46 1441.05,773.73 1441.8,771.51 1442.3,770.39 1443.05,769.35 1443.55,768.97 1445.05,768.35 1446.55,768.76 1447.55,769.45 1448.05,770.42 1448.8,773.29 1449.55,777.25 1450.3,781.63 1451.05,787.14 1451.3,789.34 1451.8,794.51 1452.3,800.63 1452.55,804.52 1452.8,809.08 1453.05,814.34 1453.3,820.4 1453.55,827.55 1453.8,835.5 1454.05,844.66 1454.3,856.44 1454.55,871.97 1454.8,881.15 1455.3,890.12 1455.55,895.02 1455.8,900.28 1456.05,905.98 1456.3,912.28 1456.55,919.39 1456.8,927.77 1457.05,938.49 1457.3,957.42 1457.55,967.3 1457.55,967.3" fill="url(#pI)"/>
<polygon points="1458,967.3 1458,967.3 1459.33,964.83 1459.67,964.39 1460,964.17 1464.55,963.4 1470,963.13 1477.01,963.38 1479.76,963.69 1482.5,964.17 1482.8,964.44 1483.1,965.02 1484,967.3 1484,967.3" fill="url(#pI)"/>
<polygon points="1494.9,967.3 1494.9,967.3 1495.15,940.24 1495.4,929.03 1495.65,920.42 1495.9,913.17 1496.15,906.78 1496.4,901.01 1496.65,895.7 1496.9,890.75 1497.15,886.11 1497.65,877.54 1497.9,863.13 1498.15,843.14 1498.4,826.64 1498.65,813.48 1498.9,804.3 1499.15,796.22 1499.4,789.26 1499.65,783.09 1499.9,777.78 1500.15,773.65 1500.4,770.53 1500.65,768.11 1500.9,766.07 1501.4,762.72 1501.65,761.7 1501.9,761.2 1503.4,761.05 1510.65,761.05 1511.15,761.6 1511.4,762.59 1511.9,765.37 1512.9,772.28 1513.15,774.32 1513.65,779.22 1514.15,785.19 1514.4,788.77 1514.65,792.83 1514.9,797.38 1515.15,802.91 1515.4,809.48 1515.65,816.93 1515.9,825.6 1516.15,835.92 1516.4,849.64 1516.65,869.53 1516.9,878.36 1517.4,887.02 1517.65,891.72 1517.9,896.73 1518.15,902.12 1518.4,908.01 1518.65,914.54 1518.9,922.01 1519.15,930.99 1519.4,943.09 1519.65,967.3 1519.65,967.3" fill="url(#pI)"/>
<polyline points="1076.2,792.72 1090.6,792.72 1090.9,792.99 1091.2,793.76 1091.5,794.96 1091.8,796.5 1092.1,798.34 1092.4,800.38 1093,804.8 1093.31,807.65 1093.62,811.38 1093.94,815.81 1094.25,820.76 1094.56,826.07 1095.19,837.01 1095.5,842.3 1095.83,847.5 1096.49,857.54 1096.81,862.94 1097.14,868.95 1097.47,875.87 1097.8,883.97 1098.1,895.23 1098.4,910.34 1098.7,925.28 1099,936.05 1099.3,943.35 1099.6,950.14 1099.9,955.78 1100.2,959.63 1100.5,961.05 1117,961.05 1117.33,960.25 1117.67,958.15 1118,955.25 1118.67,948.93 1119,946.47 1120.25,938.35 1120.56,936.61 1120.88,935.22 1121.19,934.3 1121.5,933.97 1122.12,934.3 1122.75,935.21 1123.38,936.54 1124,938.13 1124.33,939.63 1124.67,942.01 1125.33,947.48 1125.67,949.59 1126,950.63 1127.54,951.94 1129.08,952.61 1130.31,952.68 1130.94,952.36 1131.56,951.79 1132.81,950.09 1135.94,944.84 1137.19,942.27 1140,936.05 1143.12,929.96 1144.06,927.94 1144.69,926.44 1145.6,923.89 1146.2,921.91 1146.8,919.76 1148,915.22 1148.31,913.86 1149.25,908.82 1149.56,907.26 1149.88,905.98 1150.19,905.12 1150.5,904.8 1150.8,908.15 1151.1,916.52 1151.7,938.2 1152,946.47 1152.33,953.82 1152.67,960.33 1153,963.13 1170,963.13 1170.33,961.5 1170.67,957.07 1171,950.56 1171.33,942.67 1172,925.63 1172.3,916.47 1172.6,904.95 1172.9,892.81 1173.2,881.77 1173.5,873.55 1173.9,865.22 1174.3,861.05 1174.6,864.91 1174.9,874.13 1175.2,885.14 1175.5,894.38 1176.1,909.47 1176.4,916.46 1176.7,922.09 1177,925.63 1177.3,927.81 1177.6,929.81 1177.9,931.64 1178.2,933.27 1178.5,934.7 1178.8,935.89 1179.1,936.85 1179.4,937.55 1179.7,937.99 1180,938.13 1185.31,938.11 1186.25,937.81 1189.06,936.24 1190,936.05 1190.31,936.16 1190.62,936.45 1191.23,937.46 1192.46,940.24 1193.08,941.46 1193.69,942.19 1194,942.3 1194.33,940.53 1194.67,935.81 1195,929 1195.33,920.98 1195.67,912.62 1196,904.8 1196.33,896.6 1196.67,887.1 1197,877.12 1197.33,867.51 1197.67,859.1 1198,852.72 1198.33,847.65 1198.65,842.95 1198.97,839.48 1199.3,838.13 1199.6,840.42 1199.9,846.32 1200.2,854.38 1200.5,863.13 1200.8,874.68 1201.1,890.35 1201.4,907.54 1201.7,923.64 1202,936.05 1202.33,947.32 1202.67,956.96 1203,961.05 1221,961.05 1221.33,959.25 1221.67,954.52 1222,947.81 1222.67,932.4 1223,925.63 1223.3,919.99 1223.9,908.26 1224.2,902.95 1224.5,898.55 1225.1,892.3 1225.45,894.64 1225.8,900.45 1226.5,915.22 1226.83,922.99 1227.17,932.7 1227.5,942.86 1227.83,951.97 1228.17,958.53 1228.5,961.05 1247.5,961.05 1247.83,945.44 1248.17,912.71 1248.5,883.97 1248.83,863.39 1249.17,845.3 1249.5,836.05 1249.8,833.84 1250.1,832.1 1250.4,830.83 1250.7,830.06 1251,829.8 1261,829.8 1261.33,835.55 1261.67,848.7 1262,863.13 1262.3,877.03 1262.6,893.66 1262.9,910.65 1263.2,925.58 1263.5,936.05 1263.8,943.42 1264.1,950.21 1264.4,955.82 1264.7,959.64 1265,961.05 1286,961.05 1286.33,959.04 1286.67,953.82 1287,946.63 1287.33,938.72 1287.67,931.31 1288,925.63 1288.63,916.87 1288.94,912.56 1289.26,908.69 1289.57,905.57 1289.89,903.48 1290.2,902.72 1290.53,903.87 1290.85,906.83 1291.17,910.86 1291.5,915.22 1291.83,921.66 1292.17,931 1292.5,941.42 1292.83,951.12 1293.17,958.26 1293.5,961.05 1311,961.05 1311.3,957.49 1311.6,948.11 1311.9,934.9 1312.5,904.8 1312.83,883.48 1313.17,858.87 1313.5,842.3 1313.83,834.08 1314.17,828.01 1314.5,825.63 1326,825.63 1326.33,836.69 1326.67,860.71 1327,883.97 1327.3,902.52 1327.6,922.95 1327.9,941.82 1328.2,955.67 1328.5,961.05 1346,961.05 1346.33,958.87 1346.67,953.27 1347,945.71 1347.33,937.62 1347.67,930.45 1348,925.63 1348.63,919.77 1349.27,914.36 1349.58,911.91 1349.9,909.67 1350.22,907.69 1350.53,905.99 1350.85,904.61 1351.17,903.58 1351.48,902.94 1351.8,902.72 1352.11,903.09 1352.43,904.12 1352.74,905.7 1353.06,907.71 1353.37,910.05 1354,915.22 1354.31,918.86 1354.62,924.15 1354.94,930.48 1355.56,943.9 1355.88,949.78 1356.19,954.3 1356.5,956.88 1357.1,959.32 1357.4,960.23 1357.7,960.83 1358,961.05 1376.5,961.05 1376.83,950.68 1377.5,904.8 1377.83,882.67 1378.15,858.05 1378.47,838.05 1378.8,829.8 1379.1,838.19 1379.4,858.43 1379.7,883.11 1380,904.8 1380.33,928.14 1380.67,950.85 1381,961.05 1399.5,961.05 1399.83,953.49 1400.17,938.06 1400.5,925.63 1400.8,919.04 1401.1,912.83 1401.4,907.63 1401.7,904.05 1402,902.72 1402.33,903.34 1402.67,905 1403,907.35 1403.67,912.79 1404.62,919.49 1405.85,928.94 1406.46,933.53 1407.08,937.64 1407.38,939.43 1407.69,941 1408,942.3 1409.22,946.85 1409.84,948.96 1410.45,950.85 1411.06,952.47 1411.68,953.71 1411.98,954.17 1412.59,954.73 1412.9,954.8 1413.53,954.66 1414.16,954.26 1415.42,952.89 1417.31,950.11 1417.94,948.76 1418.56,947.08 1419.19,945.15 1421.06,938.88 1421.69,936.94 1423.85,930.92 1424.77,928.49 1425.69,926.29 1427.96,921.24 1428.62,920.12 1428.95,919.73 1429.6,919.38 1429.92,919.82 1430.23,921.01 1430.55,922.79 1430.87,924.96 1431.5,929.8 1431.83,933.12 1432.17,937.61 1432.83,947.59 1433.17,951.85 1433.5,954.8 1434.17,958.81 1434.5,960.53 1434.83,961.9 1435.17,962.81 1435.5,963.13 1453.5,963.13 1453.8,960.73 1454.1,954.43 1454.4,945.58 1455,925.63 1455.3,914.83 1455.6,901.96 1455.9,888.25 1456.2,874.9 1456.5,863.13 1457.1,841.47 1457.4,831.48 1457.7,823.15 1458,817.3 1458.33,812.71 1458.65,808.73 1458.97,805.9 1459.3,804.8 1463.5,804.31 1468.3,803.97 1473.7,803.8 1495,803.76 1495.32,803.95 1495.64,804.54 1495.96,805.55 1496.28,807.02 1496.6,808.97 1496.9,824.13 1497.2,854.6 1497.5,883.97 1497.83,913.79 1498.17,942.51 1498.5,956.88 1498.8,959.14 1499.1,960.89 1499.4,962.14 1499.7,962.89 1500,963.13 1517.5,963.13 1517.83,957.31 1518.17,945.47 1518.5,936.05 1518.83,930.82 1519.15,926.13 1519.47,922.76 1519.8,921.47 1529.2,921.47" fill="none" stroke="#5eb6e4" stroke-width="1.3" stroke-linejoin="round"/>
<polyline points="1076.2,933.97 1095.8,933.97 1096.1,935.19 1096.4,938.28 1097,946.47 1097.33,952.7 1097.67,959.77 1098,963.13 1118,963.13 1118.3,960.56 1118.6,953.91 1118.9,944.8 1119.2,934.84 1119.5,925.63 1119.83,915.83 1120.17,905.16 1120.83,883.08 1121.17,872.6 1121.5,863.13 1121.83,854.05 1122.17,844.79 1122.5,835.92 1122.83,828.01 1123.17,821.61 1123.5,817.3 1123.83,814.37 1124.15,811.64 1124.47,809.16 1124.8,807 1125.12,805.22 1125.45,803.87 1125.77,803.01 1126.1,802.72 1126.42,803.03 1126.73,803.92 1127.05,805.26 1127.37,806.97 1128,811.05 1128.33,814.3 1128.67,819.11 1129,824.91 1129.33,831.09 1129.67,837.09 1130,842.3 1130.67,852.08 1131,856.89 1131.33,861.24 1131.67,864.81 1132,867.3 1132.6,870.47 1132.9,871.88 1133.2,873.13 1133.5,874.16 1133.8,874.95 1134.1,875.46 1134.4,875.63 1144,875.63 1144.3,875.02 1144.6,873.47 1145.2,869.2 1145.8,865.42 1146.1,863.37 1146.4,861.72 1146.7,861.05 1147.03,863.37 1147.35,869.14 1148,883.97 1148.33,891.89 1148.67,901.25 1149,911.21 1149.33,920.9 1149.67,929.46 1150,936.05 1150.6,945.66 1150.9,950.22 1151.2,954.37 1151.5,957.93 1151.8,960.69 1152.1,962.49 1152.4,963.13 1170.5,963.13 1170.8,956.77 1171.1,942.17 1171.4,926.08 1171.7,915.22 1172.06,908.23 1172.42,901.97 1172.78,896.91 1173.14,893.53 1173.5,892.3 1173.8,892.98 1174.1,894.85 1174.4,897.63 1174.7,901.04 1175,904.8 1175.3,910.89 1175.6,920.13 1175.9,930.48 1176.2,939.94 1176.5,946.47 1176.84,951.39 1177.18,955.92 1177.52,959.66 1177.86,962.2 1178.2,963.13 1195,963.13 1195.3,960.28 1195.6,953.08 1195.9,943.56 1196.2,933.73 1196.5,925.63 1197.1,912.01 1197.4,905.64 1197.7,900.28 1198,896.47 1198.33,893.42 1198.65,890.75 1198.97,888.85 1199.3,888.13 1199.6,889.01 1199.9,891.42 1200.2,895.06 1200.5,899.62 1200.8,904.8 1201.1,914.87 1201.4,930.45 1201.7,945.7 1202,954.8 1202.33,958.98 1202.67,961.98 1203,963.13 1221.5,963.13 1221.83,952.09 1222.17,928.08 1222.5,904.8 1222.83,885.11 1223.17,866.07 1223.5,852.72 1223.9,842.77 1224.3,838.13 1224.6,840.42 1224.9,846.32 1225.2,854.38 1225.5,863.13 1225.8,874.97 1226.1,891.22 1226.4,908.83 1226.7,924.79 1227,936.05 1227.3,943.92 1227.6,951.27 1227.9,957.39 1228.2,961.58 1228.5,963.13 1247,963.13 1247.3,956.75 1247.6,942.11 1247.9,926 1248.2,915.22 1248.53,909.04 1248.85,903.71 1249.17,899.96 1249.5,898.55 1250.41,898.55 1261,898.55 1261.35,900.09 1261.7,904.05 1262.05,909.42 1262.4,915.22 1262.72,922.5 1263.04,932.52 1263.36,943.06 1263.68,951.92 1264,956.88 1264.3,958.9 1264.6,960.62 1264.9,961.96 1265.2,962.83 1265.5,963.13 1286,963.13 1286.33,951.93 1286.67,927.77 1287,904.8 1287.65,868.64 1287.97,852.99 1288.3,842.3 1288.67,834.28 1289.03,828.1 1289.4,825.63 1289.77,828.19 1290.13,834.44 1290.5,842.3 1290.8,851.21 1291.1,863.72 1291.7,892.32 1292,904.8 1292.36,919.3 1292.72,934.82 1293.08,948.92 1293.44,959.17 1293.8,963.13 1311,963.13 1311.3,958.78 1311.6,948.17 1311.9,934.94 1312.2,922.74 1312.5,915.22 1312.8,911.38 1313.1,907.96 1313.4,905.21 1313.7,903.38 1314,902.72 1314.31,902.72 1325,902.72 1325.3,904.19 1325.6,908.05 1325.9,913.47 1326.5,925.63 1326.8,933.17 1327.4,952.66 1327.7,960.14 1328,963.13 1346,963.13 1346.3,958.74 1346.6,947.62 1346.9,932.86 1347.2,917.55 1347.5,904.8 1347.83,892.78 1348.17,880.42 1348.5,868.46 1348.83,857.63 1349.17,848.67 1349.5,842.3 1349.8,838.1 1350.1,834.31 1350.4,831.17 1350.7,828.9 1351,827.72 1351.7,826.59 1352.4,825.88 1353.1,825.63 1353.45,827.06 1353.8,830.83 1354.15,836.17 1354.5,842.3 1354.83,851.3 1355.17,864.98 1355.5,881.3 1355.83,898.21 1356.17,913.67 1356.5,925.63 1357.18,945.84 1357.52,954.6 1357.86,960.79 1358.2,963.13 1376.5,963.13 1376.83,955.1 1377.17,938.74 1377.5,925.63 1377.83,918.2 1378.15,911.5 1378.47,906.66 1378.8,904.8 1379.1,910.06 1379.4,922.29 1379.7,936.2 1380,946.47 1380.33,954.09 1380.67,960.46 1381,963.13 1399.5,963.13 1399.83,951.65 1400.17,927.21 1400.5,904.8 1400.8,888.86 1401.1,872.18 1401.4,857.22 1401.7,846.44 1402,842.3 1402.33,842.98 1402.67,844.71 1403.33,849.43 1403.67,851.49 1404,852.72 1404.92,854.4 1405.54,855.32 1406.16,856.06 1406.78,856.58 1407.7,856.88 1421.9,856.88 1422.25,856.2 1422.6,854.37 1422.95,851.73 1424.31,839.45 1424.62,836.12 1425.56,825.26 1425.88,822.02 1426.19,819.3 1426.5,817.3 1426.86,815.49 1427.22,813.8 1427.58,812.38 1427.94,811.41 1428.3,811.05 1428.64,811.86 1428.98,814.05 1429.32,817.3 1429.66,821.27 1430,825.63 1430.33,831.58 1430.67,840.16 1431,850.52 1431.67,873.27 1432,883.97 1432.33,894.97 1433,919.47 1433.33,930.83 1433.67,940.19 1434,946.47 1434.33,950.75 1434.67,954.69 1435,958.09 1435.33,960.76 1435.67,962.51 1436,963.13 1454.5,963.13 1454.8,958.73 1455.1,949.69 1455.4,942.3 1455.72,937.62 1456.04,933.3 1456.36,929.66 1456.68,927 1457,925.63 1457.67,924.53 1458,924.13 1458.67,923.64 1459,923.55 1465,922.96 1471.9,922.61 1480,922.51 1489.36,922.72 1492.98,923.03 1496.6,923.55 1496.9,926.26 1497.2,932.62 1497.5,940.18 1497.8,946.47 1498.4,957.21 1498.7,961.43 1499,963.13 1517,963.13 1517.3,959.26 1517.6,949.19 1517.9,935.22 1518.2,919.65 1518.5,904.8 1518.8,888.07 1519.4,847.46 1519.7,830.82 1520,821.47 1520.33,816.75 1520.67,812.69 1521,809.38 1521.33,806.9 1521.67,805.34 1522,804.8 1529.2,804.8" fill="none" stroke="#e3a21c" stroke-width="1.3" stroke-linejoin="round"/>
</g>
<path d="M1076.2,717.3H1529.2V967.3H1076.2" fill="none" stroke="#333" stroke-width="1.6"/>
<path d="M1076.2,716.5V968.1" fill="none" stroke="#707070" stroke-width="1.8"/>
<text x="1063.42" y="972.04" font-family='"Liberation Sans", sans-serif' font-size="14.8" textLength="6" lengthAdjust="spacingAndGlyphs" fill="#000" stroke="#000" stroke-width="0.25">0</text>
<text x="1054.54" y="930.37" font-family='"Liberation Sans", sans-serif' font-size="14.8" textLength="15" lengthAdjust="spacingAndGlyphs" fill="#000" stroke="#000" stroke-width="0.25">0.2</text>
<text x="1054.31" y="888.71" font-family='"Liberation Sans", sans-serif' font-size="14.8" textLength="15" lengthAdjust="spacingAndGlyphs" fill="#000" stroke="#000" stroke-width="0.25">0.4</text>
<text x="1054.47" y="847.04" font-family='"Liberation Sans", sans-serif' font-size="14.8" textLength="15" lengthAdjust="spacingAndGlyphs" fill="#000" stroke="#000" stroke-width="0.25">0.6</text>
<text x="1054.47" y="805.37" font-family='"Liberation Sans", sans-serif' font-size="14.8" textLength="15" lengthAdjust="spacingAndGlyphs" fill="#000" stroke="#000" stroke-width="0.25">0.8</text>
<text x="1063.52" y="763.71" font-family='"Liberation Sans", sans-serif' font-size="14.8" textLength="6" lengthAdjust="spacingAndGlyphs" fill="#000" stroke="#000" stroke-width="0.25">1</text>
<text x="1054.54" y="722.04" font-family='"Liberation Sans", sans-serif' font-size="14.8" textLength="15" lengthAdjust="spacingAndGlyphs" fill="#000" stroke="#000" stroke-width="0.25">1.2</text>
<text x="1151.65" y="986.7" font-family='"Liberation Sans", sans-serif' font-size="14.8" textLength="18.01" lengthAdjust="spacingAndGlyphs" fill="#000" stroke="#000" stroke-width="0.25">100</text>
<text x="1235.24" y="986.7" font-family='"Liberation Sans", sans-serif' font-size="14.8" textLength="18.01" lengthAdjust="spacingAndGlyphs" fill="#000" stroke="#000" stroke-width="0.25">200</text>
<text x="1318.75" y="986.7" font-family='"Liberation Sans", sans-serif' font-size="14.8" textLength="18.01" lengthAdjust="spacingAndGlyphs" fill="#000" stroke="#000" stroke-width="0.25">300</text>
<text x="1402.28" y="986.7" font-family='"Liberation Sans", sans-serif' font-size="14.8" textLength="18.01" lengthAdjust="spacingAndGlyphs" fill="#000" stroke="#000" stroke-width="0.25">400</text>
<text x="1485.64" y="986.7" font-family='"Liberation Sans", sans-serif' font-size="14.8" textLength="18.01" lengthAdjust="spacingAndGlyphs" fill="#000" stroke="#000" stroke-width="0.25">500</text>
<path d="M1076.2,925.63h3.6M1529.2,925.63h-3.6M1076.2,883.97h3.6M1529.2,883.97h-3.6M1076.2,842.3h3.6M1529.2,842.3h-3.6M1076.2,800.63h3.6M1529.2,800.63h-3.6M1076.2,758.97h3.6M1529.2,758.97h-3.6M1159.55,967.3v-3.6M1159.55,717.3v3.6M1243,967.3v-3.6M1243,717.3v3.6M1326.45,967.3v-3.6M1326.45,717.3v3.6M1409.9,967.3v-3.6M1409.9,717.3v3.6M1493.35,967.3v-3.6M1493.35,717.3v3.6" stroke="#2a2a2a" stroke-width="1.2" fill="none"/>
<text transform="translate(1037.3,842.3) scale(0.76,1) rotate(-90)" x="0" y="0" text-anchor="middle" font-family='"Liberation Sans", sans-serif' font-size="14" stroke="#000" stroke-width="0.2">probability</text>
<line x1="1203.2" y1="999.9" x2="1232.7" y2="999.9" stroke="#9444b8" stroke-width="1.3"/>
<text x="1121.3" y="1004.9" font-family='"Liberation Sans", sans-serif' font-size="14.2" textLength="75.58" lengthAdjust="spacingAndGlyphs" fill="#000" stroke="#000" stroke-width="0.25">transmembrane</text>
<line x1="1330.6" y1="999.9" x2="1360.1" y2="999.9" stroke="#6cb2d0" stroke-width="1.3"/>
<text x="1296.08" y="1004.9" font-family='"Liberation Sans", sans-serif' font-size="14.2" textLength="28.2" lengthAdjust="spacingAndGlyphs" fill="#000" stroke="#000" stroke-width="0.25">inside</text>
<line x1="1458" y1="999.9" x2="1487.5" y2="999.9" stroke="#daa040" stroke-width="1.3"/>
<text x="1416.88" y="1004.9" font-family='"Liberation Sans", sans-serif' font-size="14.2" textLength="34.8" lengthAdjust="spacingAndGlyphs" fill="#000" stroke="#000" stroke-width="0.25">outside</text>
<text font-family='"Liberation Serif", serif' font-weight="bold" fill="#000"><tspan x="1080.07" y="701.9" font-size="31.2" textLength="23.53" lengthAdjust="spacingAndGlyphs">M</tspan><tspan x="1103.61" y="701.9" font-size="30" textLength="26.33" lengthAdjust="spacingAndGlyphs">ok</tspan><tspan x="1129.94" y="701.9" font-size="31.2" textLength="9.7" lengthAdjust="spacingAndGlyphs">I</tspan></text>
<text font-family='"Liberation Sans", sans-serif' fill="#000" stroke="#000" stroke-width="0.25"><tspan x="1152.95" y="699" font-size="15" textLength="265.49" lengthAdjust="spacingAndGlyphs">TMHMM posterior probabilities for sp|Q3S2U5.1|MOKI</tspan><tspan x="1418.45" y="703.6" font-size="12" textLength="7.33" lengthAdjust="spacingAndGlyphs">M</tspan><tspan x="1425.78" y="699" font-size="15" textLength="26.89" lengthAdjust="spacingAndGlyphs">ONPI</tspan></text>
</svg></body></html>
